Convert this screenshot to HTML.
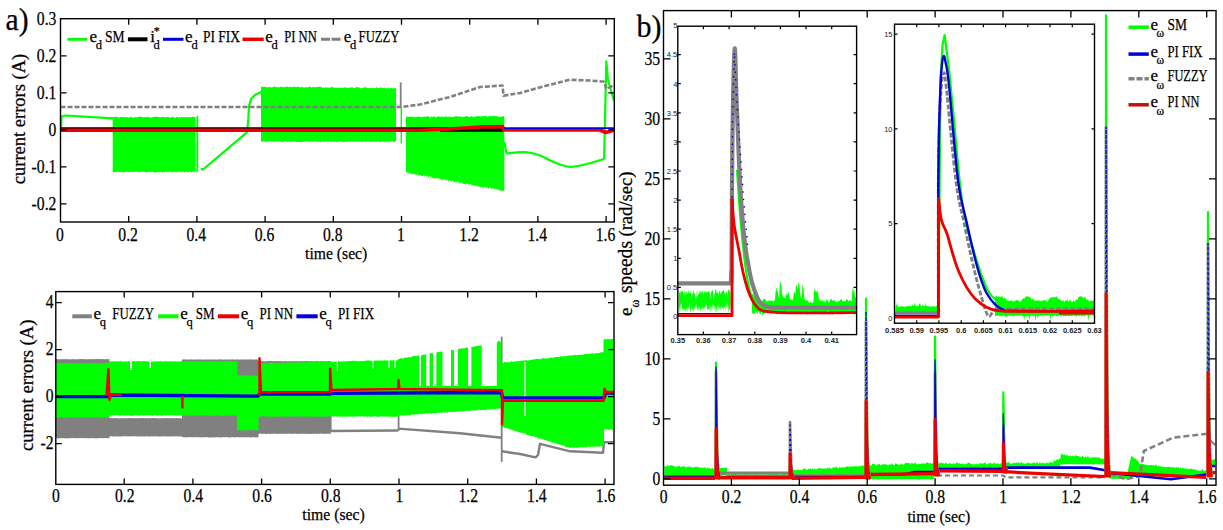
<!DOCTYPE html><html><head><meta charset="utf-8"><style>html,body{margin:0;padding:0;background:#fff;width:1223px;height:530px;overflow:hidden}svg{display:block}text{font-family:"Liberation Serif",serif;stroke:#000;stroke-width:0.25px}text.ss{font-family:"Liberation Sans",sans-serif;stroke:none}</style></head><body><svg width="1223" height="530" viewBox="0 0 1223 530">
<rect width="1223" height="530" fill="#fff"/>
<polyline points="61,129.9 61.5,116.6 65.6,115.5 113.4,118.4" fill="none" stroke="#00ff00" stroke-width="2.2" stroke-linejoin="round" />
<polygon points="112.7,117 113.3,117.4 114,117.2 114.7,116.7 115.3,116.6 116,116.7 116.7,117.1 117.4,116.7 118,117.4 118.7,117.3 119.4,117.8 120,117.6 120.7,116.8 121.4,117 122,116.8 122.7,117.4 123.4,117.3 124,116.7 124.7,117.4 125.4,117 126,117.1 126.7,117.6 127.4,116.9 128,117.2 128.7,117.5 129.4,117.8 130.1,117.1 130.7,116.8 131.4,116.6 132.1,117.5 132.7,117.7 133.4,117.4 134.1,117.3 134.7,117.6 135.4,117.2 136.1,116.7 136.7,117.4 137.4,117.6 138.1,117.1 138.7,116.6 139.4,116.8 140.1,116.7 140.7,116.8 141.4,117.1 142.1,116.7 142.8,117.3 143.4,117.6 144.1,116.9 144.8,117 145.4,117.7 146.1,116.8 146.8,116.9 147.4,117.3 148.1,116.6 148.8,117 149.4,117.7 150.1,117.2 150.8,117.4 151.4,117.7 152.1,117.6 152.8,117.1 153.4,116.7 154.1,116.7 154.8,116.9 155.5,117 156.1,116.6 156.8,116.7 157.5,116.6 158.1,117.3 158.8,116.9 159.5,117 160.1,117.6 160.8,117.2 161.5,116.7 162.1,117 162.8,117.6 163.5,116.6 164.1,117.2 164.8,117.3 165.5,117.2 166.2,117.6 166.8,116.9 167.5,116.8 168.2,117.2 168.8,117 169.5,117.6 170.2,117.6 170.8,117.6 171.5,116.9 172.2,117 172.8,116.6 173.5,116.9 174.2,117.7 174.8,117.7 175.5,117.7 176.2,116.9 176.8,116.8 177.5,117.3 178.2,117.6 178.9,117.4 179.5,116.7 180.2,117.7 180.9,117.5 181.5,116.8 182.2,117 182.9,117.8 183.5,117.1 184.2,117.5 184.9,116.8 185.5,117.7 186.2,116.8 186.9,117.8 187.5,117 188.2,116.8 188.9,117.8 189.5,117.2 190.2,117.1 190.9,117.6 191.6,116.9 192.2,116.9 192.9,116.9 193.6,116.8 194.2,117 194.9,117.3 195.6,117.1 196.2,117.2 196.9,117.2 196.9,172.6 196.2,172 195.6,171.5 194.9,171.5 194.2,172.1 193.6,171.5 192.9,172.1 192.2,171.9 191.6,172.2 190.9,172.3 190.2,171.6 189.5,171.5 188.9,171.8 188.2,172.6 187.5,171.9 186.9,171.8 186.2,171.6 185.5,171.6 184.9,172.4 184.2,172.4 183.5,171.5 182.9,172.1 182.2,171.6 181.5,171.7 180.9,172 180.2,171.7 179.5,171.8 178.9,171.6 178.2,172 177.5,171.5 176.8,172.4 176.2,172.3 175.5,172.2 174.8,171.4 174.2,172.1 173.5,171.8 172.8,172.3 172.2,172.6 171.5,172 170.8,171.7 170.2,171.6 169.5,171.4 168.8,172.3 168.2,171.7 167.5,171.7 166.8,172.2 166.2,171.8 165.5,171.4 164.8,172.6 164.1,172.4 163.5,171.5 162.8,172.4 162.1,172.3 161.5,172.5 160.8,172 160.1,171.4 159.5,172.5 158.8,172.2 158.1,172.4 157.5,171.6 156.8,172.2 156.1,172.4 155.5,172.5 154.8,172.4 154.1,172.5 153.4,171.8 152.8,172.1 152.1,171.6 151.4,171.7 150.8,172.5 150.1,171.9 149.4,171.8 148.8,171.9 148.1,172.1 147.4,172.3 146.8,172 146.1,172.3 145.4,172.4 144.8,171.5 144.1,172.1 143.4,171.6 142.8,171.5 142.1,172.1 141.4,171.6 140.7,172.3 140.1,171.7 139.4,172.5 138.7,172 138.1,171.8 137.4,172.3 136.7,171.4 136.1,171.8 135.4,171.8 134.7,171.5 134.1,172.1 133.4,171.9 132.7,172.2 132.1,171.9 131.4,171.8 130.7,172 130.1,171.7 129.4,172.5 128.7,172.3 128,171.5 127.4,171.9 126.7,171.8 126,172.2 125.4,171.9 124.7,172.1 124,172.4 123.4,172.5 122.7,172.2 122,171.9 121.4,171.6 120.7,172.5 120,172.3 119.4,172.5 118.7,172.1 118,171.5 117.4,172.3 116.7,171.6 116,172.5 115.3,172.1 114.7,172 114,172.2 113.3,172.5 112.7,172.4" fill="#00ff00" />
<line x1="196" y1="116" x2="196" y2="172" stroke="#fff" stroke-width="0.8" />
<line x1="197.5" y1="115.6" x2="197.5" y2="171.7" stroke="#00ff00" stroke-width="1.5" />
<polyline points="200.8,168.6 203,169.5 246.9,132.3 248.3,120 249,106 251,99 255,95 261.4,91.8" fill="none" stroke="#00ff00" stroke-width="2.2" stroke-linejoin="round" />
<polygon points="261,86.9 261.7,86.2 262.3,86.5 263,87.3 263.7,86.7 264.3,87.1 265,86.4 265.7,86.6 266.3,87.4 267,87.1 267.7,87.6 268.4,87.2 269,87 269.7,86.9 270.4,87 271,87.3 271.7,87.7 272.4,87.1 273,87.5 273.7,86.5 274.4,86.4 275,86.4 275.7,87.5 276.4,86.5 277,87.3 277.7,87.6 278.4,86.7 279,86.9 279.7,87.8 280.4,86.6 281,87.1 281.7,86.6 282.4,87.4 283.1,87.2 283.7,86.4 284.4,87.3 285.1,86.5 285.7,87.6 286.4,86.5 287.1,86.5 287.7,86.8 288.4,87 289.1,87.6 289.7,86.6 290.4,87.3 291.1,86.6 291.7,87.5 292.4,86.5 293.1,87.4 293.7,86.6 294.4,86.5 295.1,87.1 295.8,87.3 296.4,86.9 297.1,87.3 297.8,86.6 298.4,86.6 299.1,87 299.8,87.6 300.4,87.2 301.1,87 301.8,86.9 302.4,87.6 303.1,86.8 303.8,87.9 304.4,87.8 305.1,87.3 305.8,87.1 306.4,87.6 307.1,87.1 307.8,87.6 308.5,87.2 309.1,86.6 309.8,86.7 310.5,86.9 311.1,86.7 311.8,87.9 312.5,87 313.1,87 313.8,86.8 314.5,87 315.1,88.1 315.8,87 316.5,87.1 317.1,86.6 317.8,87.3 318.5,86.9 319.1,86.6 319.8,86.8 320.5,86.7 321.1,87.1 321.8,87.5 322.5,87.8 323.2,87.7 323.8,87.2 324.5,88.1 325.2,87.8 325.8,86.7 326.5,88 327.2,87.8 327.8,86.9 328.5,87.5 329.2,87.9 329.8,87.6 330.5,87.7 331.2,87.1 331.8,86.9 332.5,86.9 333.2,87.6 333.8,87.7 334.5,87.5 335.2,87.9 335.9,87.5 336.5,87.7 337.2,87.9 337.9,86.9 338.5,87.9 339.2,87.9 339.9,87.5 340.5,87.5 341.2,87.9 341.9,87.8 342.5,87 343.2,87.9 343.9,87.7 344.5,86.9 345.2,87.8 345.9,87.8 346.5,87.6 347.2,87.5 347.9,88.2 348.5,88.3 349.2,86.9 349.9,88.1 350.6,87.5 351.2,87.2 351.9,87.2 352.6,87.1 353.2,88.3 353.9,88.1 354.6,88.2 355.2,87.2 355.9,87.6 356.6,86.9 357.2,87.6 357.9,87.1 358.6,87.4 359.2,86.9 359.9,88.2 360.6,88.3 361.2,88.3 361.9,87.5 362.6,88.5 363.3,87.5 363.9,87.4 364.6,87.1 365.3,87.4 365.9,87.4 366.6,87.7 367.3,87.5 367.9,88.3 368.6,87.9 369.3,88.4 369.9,88.1 370.6,88.1 371.3,88.1 371.9,87.5 372.6,88.4 373.3,87.7 373.9,87.5 374.6,88.5 375.3,88 376,87.9 376.6,87.3 377.3,87.4 378,87.8 378.6,88.4 379.3,87.8 380,87.4 380.6,87.6 381.3,87.4 382,88 382.6,88.2 383.3,87.7 384,87.7 384.6,87.2 385.3,88.6 386,87.9 386.6,88.4 387.3,87.5 388,87.7 388.6,88.6 389.3,88.5 390,87.2 390.7,88.5 391.3,88 392,87.8 392.7,88.4 393.3,88.6 394,87.3 394.7,88 395.3,88.6 396,88.2 396,141.3 395.3,141.3 394.7,141.4 394,142 393.3,141.9 392.7,141.2 392,141.1 391.3,142.2 390.7,141.6 390,141.3 389.3,142.2 388.6,141.2 388,141.7 387.3,141.9 386.6,141.9 386,141.4 385.3,142 384.6,141.9 384,141.8 383.3,141.6 382.6,141.7 382,141.1 381.3,141.9 380.6,142.1 380,142.1 379.3,142 378.6,141 378,141.9 377.3,141.1 376.6,142 376,141.7 375.3,141.8 374.6,141.9 373.9,141.3 373.3,141.8 372.6,142 371.9,142.1 371.3,141.4 370.6,141.7 369.9,142.1 369.3,141.5 368.6,141.1 367.9,141.2 367.3,141.1 366.6,142 365.9,141.9 365.3,141.1 364.6,141.2 363.9,142.1 363.3,141.7 362.6,141.5 361.9,141.7 361.2,141.9 360.6,141.3 359.9,142.1 359.2,141.3 358.6,141.2 357.9,141.8 357.2,141.8 356.6,141.6 355.9,142.2 355.2,141.1 354.6,141.4 353.9,141.6 353.2,142 352.6,141.6 351.9,141.5 351.2,141.1 350.6,141.9 349.9,141 349.2,141.6 348.5,141.1 347.9,142 347.2,142.1 346.5,141.6 345.9,141.9 345.2,141.4 344.5,141.9 343.9,142.2 343.2,141.8 342.5,141.9 341.9,142.1 341.2,141.5 340.5,141.4 339.9,141.7 339.2,141 338.5,142 337.9,141.9 337.2,141.9 336.5,142.1 335.9,141.6 335.2,141.3 334.5,142.2 333.8,141.4 333.2,141.4 332.5,141.2 331.8,141.8 331.2,142.2 330.5,141.4 329.8,141.1 329.2,141.2 328.5,141.2 327.8,141.6 327.2,141.2 326.5,141.4 325.8,141.2 325.2,141.4 324.5,142 323.8,141.8 323.2,141.1 322.5,141.4 321.8,141.6 321.1,141.9 320.5,142.2 319.8,141.7 319.1,141.9 318.5,141.6 317.8,141.6 317.1,141.7 316.5,141.8 315.8,141 315.1,141.5 314.5,141 313.8,141.7 313.1,141.6 312.5,141.9 311.8,141.4 311.1,141.2 310.5,142 309.8,141.3 309.1,142 308.5,141.8 307.8,141.4 307.1,141.2 306.4,141 305.8,141.6 305.1,141.2 304.4,141.7 303.8,142.1 303.1,141.6 302.4,141.5 301.8,142.2 301.1,142.2 300.4,142 299.8,141.9 299.1,141.8 298.4,142 297.8,142 297.1,141.9 296.4,142 295.8,141.1 295.1,141.8 294.4,141.2 293.7,141.2 293.1,141.2 292.4,141.1 291.7,141.7 291.1,142.1 290.4,141.4 289.7,141.1 289.1,141.9 288.4,141.1 287.7,142 287.1,141.3 286.4,141.9 285.7,141 285.1,141 284.4,141.6 283.7,141.8 283.1,141.7 282.4,142.2 281.7,141.8 281,141.8 280.4,141.7 279.7,141.2 279,141.6 278.4,141.1 277.7,141 277,142 276.4,141.3 275.7,141.1 275,141.4 274.4,141.9 273.7,141.7 273,142 272.4,141.1 271.7,141.9 271,141.1 270.4,141.1 269.7,141.6 269,141.4 268.4,141.6 267.7,141.7 267,141.3 266.3,141.6 265.7,141.9 265,141.5 264.3,141.3 263.7,141.6 263,141.5 262.3,141.6 261.7,141.2 261,142" fill="#00ff00" />
<line x1="401.3" y1="107.5" x2="401.3" y2="143.2" stroke="#00ff00" stroke-width="1.4" />
<polygon points="406,116.9 406.7,116.3 407.3,116.5 408,117.2 408.7,116.4 409.3,117.1 410,116.3 410.7,117 411.3,116.7 412,117.1 412.7,116.6 413.4,117.6 414,117.5 414.7,116.5 415.4,117.6 416,116.6 416.7,116.9 417.4,116.7 418,117.1 418.7,116.4 419.4,116.6 420,117.1 420.7,117.3 421.4,116.8 422,117.5 422.7,117.3 423.4,116.4 424.1,116.5 424.7,116.8 425.4,116.4 426.1,117.1 426.7,116.3 427.4,116.4 428.1,116.3 428.7,116.1 429.4,117.4 430.1,117.1 430.7,117.4 431.4,116.3 432.1,117.1 432.7,117 433.4,116.6 434.1,116.3 434.8,116.4 435.4,117.4 436.1,117.4 436.8,116.5 437.4,117.2 438.1,116 438.8,116.5 439.4,116.3 440.1,117.3 440.8,116.6 441.4,117.1 442.1,116 442.8,117.3 443.4,117.1 444.1,116.4 444.8,117.4 445.5,116.3 446.1,116.4 446.8,115.9 447.5,117.3 448.1,117.3 448.8,116.2 449.5,117.3 450.1,116.5 450.8,116.5 451.5,117.3 452.1,117.1 452.8,117.1 453.5,116.8 454.1,116.3 454.8,117 455.5,116.1 456.2,116.2 456.8,115.9 457.5,116.3 458.2,117.2 458.8,116.2 459.5,116 460.2,116.9 460.8,116.2 461.5,116.7 462.2,116.9 462.8,116.8 463.5,117.1 464.2,116.6 464.8,116.9 465.5,116.1 466.2,116 466.9,116.6 467.5,116.4 468.2,116.5 468.9,117 469.5,117.2 470.2,116.5 470.9,117 471.5,115.8 472.2,115.9 472.9,117.2 473.5,117.1 474.2,117 474.9,116.1 475.5,117.1 476.2,116.6 476.9,116 477.6,115.9 478.2,116.1 478.9,116.7 479.6,115.7 480.2,116.7 480.9,116.1 481.6,116.9 482.2,115.8 482.9,116.2 483.6,116.6 484.2,115.9 484.9,116.3 485.6,116.1 486.2,116.1 486.9,116.2 487.6,116.9 488.3,116.2 488.9,116.7 489.6,115.6 490.3,116.2 490.9,116.2 491.6,116.3 492.3,115.6 492.9,116.5 493.6,115.7 494.3,116.1 494.9,115.8 495.6,116.3 496.3,115.7 496.9,116.8 497.6,115.8 498.3,117 499,116.3 499.6,116.9 500.3,116.9 501,116.8 501.6,116.7 502.3,116.1 503,116.8 503.6,115.8 504.3,116.3 504.3,191.2 503.6,191.1 503,191.4 502.3,189.9 501.6,191.1 501,191.1 500.3,190 499.6,190.3 499,190.9 498.3,188.9 497.6,190.5 496.9,188.7 496.3,189.5 495.6,188.5 494.9,189.7 494.3,189.1 493.6,188.7 492.9,188 492.3,188.6 491.6,189.3 490.9,187.7 490.3,187.7 489.6,187.4 488.9,188.7 488.3,188.6 487.6,186.9 486.9,187.9 486.2,187.5 485.6,186.6 484.9,187.8 484.2,186.8 483.6,187.9 482.9,186.9 482.2,187.6 481.6,186.6 480.9,187.2 480.2,187.1 479.6,186.7 478.9,186.8 478.2,185.9 477.6,186.6 476.9,186.1 476.2,185.5 475.5,186.4 474.9,184.9 474.2,185.4 473.5,185.5 472.9,184.9 472.2,185.6 471.5,185.2 470.9,183.9 470.2,183.9 469.5,185.3 468.9,184 468.2,184.7 467.5,183.1 466.9,184.3 466.2,183.1 465.5,184.2 464.8,184.2 464.2,183.7 463.5,183.7 462.8,184 462.2,182.4 461.5,182.6 460.8,183 460.2,182.8 459.5,182.6 458.8,183.3 458.2,181.3 457.5,181.2 456.8,182 456.2,182.8 455.5,181.3 454.8,182.5 454.1,181.8 453.5,181.8 452.8,180.8 452.1,180.7 451.5,181.7 450.8,180.9 450.1,181.3 449.5,179.8 448.8,180.6 448.1,181.4 447.5,180 446.8,179.7 446.1,180.5 445.5,179.5 444.8,179.6 444.1,180.1 443.4,178.8 442.8,179.9 442.1,180.2 441.4,180.1 440.8,178.4 440.1,179.9 439.4,179.1 438.8,177.8 438.1,178.6 437.4,178.6 436.8,177.6 436.1,178.7 435.4,178.8 434.8,178.2 434.1,178.8 433.4,178 432.7,177.8 432.1,178.3 431.4,176.4 430.7,177.5 430.1,176 429.4,176.1 428.7,177 428.1,177.5 427.4,175.6 426.7,176.6 426.1,175.4 425.4,176.3 424.7,176.6 424.1,175 423.4,175.3 422.7,176.2 422,175.9 421.4,176 420.7,174.8 420,175.7 419.4,175.2 418.7,175.8 418,173.9 417.4,175.1 416.7,174.2 416,175.3 415.4,173.9 414.7,174.6 414,174.1 413.4,173.6 412.7,173.8 412,174.6 411.3,174.1 410.7,173.2 410,174.1 409.3,172.7 408.7,173.5 408,173.3 407.3,171.9 406.7,172.1 406,172.4" fill="#00ff00" />
<polyline points="504.3,141.9 506.5,153.5" fill="none" stroke="#00ff00" stroke-width="2.2" stroke-linejoin="round" />
<path d="M506.5 153.5C507.9 153.3 511.5 152.8 515 152.6C518.5 152.4 523.3 151.9 527.5 152.4C531.7 152.9 535.4 153.8 540 155.5C544.6 157.2 550 160.6 555 162.5C560 164.4 564.8 166.5 569.8 166.8C574.8 167.1 579.3 165.8 585 164.5C590.7 163.2 600.9 159.9 604.1 159" fill="none" stroke="#00ff00" stroke-width="2.2" stroke-linejoin="round" />
<polyline points="604.1,159 606.3,61.3 608,80 614,101" fill="none" stroke="#00ff00" stroke-width="2.2" stroke-linejoin="round" />
<polyline points="60.5,107 401,107 420,104.5 450,97 480,87 502.5,85.5 503.5,95.7 520,93 545,86 569.8,79.8 590,80.5 604,81.7 606.5,89 614,85" fill="none" stroke="#808080" stroke-width="2.6" stroke-linejoin="round" stroke-dasharray="5 2"/>
<line x1="400.7" y1="82.4" x2="400.7" y2="107" stroke="#808080" stroke-width="1.8" />
<polyline points="60.5,128.2 420,128.2 503,128.6" fill="none" stroke="#000" stroke-width="2.0" stroke-linejoin="round" />
<polyline points="440,130 503,130" fill="none" stroke="#000" stroke-width="3.6" stroke-linejoin="round" />
<polyline points="60.5,130.2 420,130.2 450,129 480,127 502.5,126.6 504,130 600,130 606,132.5 614,130" fill="none" stroke="#ee0000" stroke-width="3.6" stroke-linejoin="round" />
<polyline points="504,128.1 614,128.1" fill="none" stroke="#0000dc" stroke-width="1.8" stroke-linejoin="round" />
<rect x="60.5" y="18.7" width="553.8" height="203.3" fill="none" stroke="#000" stroke-width="1.4"/>
<path d="M128.7 222v-6M128.7 18.7v6M196.9 222v-6M196.9 18.7v6M265.1 222v-6M265.1 18.7v6M333.3 222v-6M333.3 18.7v6M401.5 222v-6M401.5 18.7v6M469.7 222v-6M469.7 18.7v6M537.9 222v-6M537.9 18.7v6M606.1 222v-6M606.1 18.7v6M60.5 55.9h6M614.3 55.9h-6M60.5 92.9h6M614.3 92.9h-6M60.5 129.9h6M614.3 129.9h-6M60.5 166.9h6M614.3 166.9h-6M60.5 203.9h6M614.3 203.9h-6" stroke="#000" stroke-width="1.3" fill="none"/>
<line x1="67.4" y1="39.3" x2="87" y2="39.3" stroke="#00ff00" stroke-width="2.8" />
<line x1="127.9" y1="39.3" x2="147.5" y2="39.3" stroke="#000" stroke-width="4" />
<line x1="163" y1="39.3" x2="183.5" y2="39.3" stroke="#0000dc" stroke-width="3" />
<line x1="242.5" y1="39.3" x2="263.7" y2="39.3" stroke="#ee0000" stroke-width="3.5" />
<line x1="321" y1="39.3" x2="342.2" y2="39.3" stroke="#808080" stroke-width="3" stroke-dasharray="9 1.5"/>
<text x="89.4" y="41.7" font-size="17" text-anchor="start" >e</text>
<text x="95.7" y="49.3" font-size="12.5" text-anchor="start" >d</text>
<text x="105" y="41.7" font-size="17" text-anchor="start" textLength="19.6" lengthAdjust="spacingAndGlyphs" >SM</text>
<text x="150.3" y="41.7" font-size="17" text-anchor="start" >i</text>
<text x="153.5" y="49.3" font-size="12.5" text-anchor="start" >d</text>
<text x="153.8" y="35.3" font-size="12" text-anchor="start" >*</text>
<text x="185.1" y="41.7" font-size="17" text-anchor="start" >e</text>
<text x="191.4" y="49.3" font-size="12.5" text-anchor="start" >d</text>
<text x="203" y="41.7" font-size="17" text-anchor="start" textLength="37" lengthAdjust="spacingAndGlyphs" >PI FIX</text>
<text x="265.3" y="41.7" font-size="17" text-anchor="start" >e</text>
<text x="271.6" y="49.3" font-size="12.5" text-anchor="start" >d</text>
<text x="284.2" y="41.7" font-size="17" text-anchor="start" textLength="32.7" lengthAdjust="spacingAndGlyphs" >PI NN</text>
<text x="343.8" y="41.7" font-size="17" text-anchor="start" >e</text>
<text x="350.1" y="49.3" font-size="12.5" text-anchor="start" >d</text>
<text x="358.6" y="41.7" font-size="17" text-anchor="start" textLength="40.8" lengthAdjust="spacingAndGlyphs" >FUZZY</text>
<text x="56.4" y="24.7" font-size="18" text-anchor="end" textLength="19.6" lengthAdjust="spacingAndGlyphs" >0.3</text>
<text x="56.4" y="61.7" font-size="18" text-anchor="end" textLength="19.6" lengthAdjust="spacingAndGlyphs" >0.2</text>
<text x="56.4" y="98.7" font-size="18" text-anchor="end" textLength="19.6" lengthAdjust="spacingAndGlyphs" >0.1</text>
<text x="56.4" y="135.7" font-size="18" text-anchor="end" textLength="7.8" lengthAdjust="spacingAndGlyphs" >0</text>
<text x="56.4" y="172.7" font-size="18" text-anchor="end" textLength="24.8" lengthAdjust="spacingAndGlyphs" >-0.1</text>
<text x="56.4" y="209.7" font-size="18" text-anchor="end" textLength="24.8" lengthAdjust="spacingAndGlyphs" >-0.2</text>
<text x="59.9" y="241.4" font-size="18" text-anchor="middle" textLength="7.8" lengthAdjust="spacingAndGlyphs" >0</text>
<text x="128.1" y="241.4" font-size="18" text-anchor="middle" textLength="19.6" lengthAdjust="spacingAndGlyphs" >0.2</text>
<text x="196.3" y="241.4" font-size="18" text-anchor="middle" textLength="19.6" lengthAdjust="spacingAndGlyphs" >0.4</text>
<text x="264.5" y="241.4" font-size="18" text-anchor="middle" textLength="19.6" lengthAdjust="spacingAndGlyphs" >0.6</text>
<text x="332.7" y="241.4" font-size="18" text-anchor="middle" textLength="19.6" lengthAdjust="spacingAndGlyphs" >0.8</text>
<text x="400.9" y="241.4" font-size="18" text-anchor="middle" textLength="7.8" lengthAdjust="spacingAndGlyphs" >1</text>
<text x="469.1" y="241.4" font-size="18" text-anchor="middle" textLength="19.6" lengthAdjust="spacingAndGlyphs" >1.2</text>
<text x="537.3" y="241.4" font-size="18" text-anchor="middle" textLength="19.6" lengthAdjust="spacingAndGlyphs" >1.4</text>
<text x="605.5" y="241.4" font-size="18" text-anchor="middle" textLength="19.6" lengthAdjust="spacingAndGlyphs" >1.6</text>
<text x="336.2" y="258.5" font-size="17" text-anchor="middle" textLength="62.2" lengthAdjust="spacingAndGlyphs" >time (sec)</text>
<text x="0" y="0" font-size="18.5" text-anchor="middle" textLength="130.4" lengthAdjust="spacingAndGlyphs" transform="translate(25.1 119) rotate(-90)">current errors (A)</text>
<text x="5.6" y="30.2" font-size="32" text-anchor="start" textLength="23" lengthAdjust="spacingAndGlyphs" >a)</text>
<polygon points="55.8,359 56.5,359.3 57.1,359 57.8,359.3 58.5,359.3 59.2,359.2 59.8,359.3 60.5,359.2 61.2,359.2 61.8,359.2 62.5,359 63.2,359.2 63.9,359.3 64.5,359.2 65.2,359.2 65.9,359.1 66.5,359 67.2,359.2 67.9,359.3 68.6,359.3 69.2,359.2 69.9,359.2 70.6,359.4 71.2,359.3 71.9,359.3 72.6,359.1 73.3,359.2 73.9,359.4 74.6,359.3 75.3,359 75.9,359.3 76.6,359.4 77.3,359.3 78,359.2 78.6,359.1 79.3,359.2 80,359 80.6,359.1 81.3,359.3 82,359.1 82.7,359 83.3,359.3 84,359.3 84.7,359.2 85.3,359 86,359.3 86.7,359.3 87.3,359.4 88,359.1 88.7,359.2 89.4,359.3 90,359.3 90.7,359.3 91.4,359.2 92,359.1 92.7,359 93.4,359.2 94.1,359.2 94.7,359.1 95.4,359.3 96.1,359 96.7,359 97.4,359.1 98.1,359.2 98.8,359.2 99.4,359.1 100.1,359.1 100.8,359 101.4,359.3 102.1,359.2 102.8,359 103.5,359.2 104.1,359.3 104.8,359.4 105.5,359.1 106.1,359 106.8,359.2 107.5,359 108.2,359 108.8,359.4 109.5,359.1 109.5,438.2 108.8,438.3 108.2,438.2 107.5,438.1 106.8,438.3 106.1,438.2 105.5,438 104.8,438.1 104.1,438.2 103.5,438.3 102.8,438.1 102.1,438.3 101.4,438.1 100.8,438.1 100.1,438.3 99.4,438 98.8,438.2 98.1,438.3 97.4,438.2 96.7,438.3 96.1,438.3 95.4,438.4 94.7,438.3 94.1,438 93.4,438.2 92.7,438.3 92,438.4 91.4,438.1 90.7,438 90,438.3 89.4,438.4 88.7,438.3 88,438.1 87.3,438.2 86.7,438.3 86,438.2 85.3,438 84.7,438 84,438.2 83.3,438.3 82.7,438.2 82,438.1 81.3,438 80.6,438 80,438.3 79.3,438.3 78.6,438.3 78,438 77.3,438.3 76.6,438.3 75.9,438.3 75.3,438.3 74.6,438 73.9,438.3 73.3,438 72.6,438 71.9,438.1 71.2,438 70.6,438.3 69.9,438.2 69.2,438.4 68.6,438.1 67.9,438.4 67.2,438.4 66.5,438.2 65.9,438.2 65.2,438.4 64.5,438.3 63.9,438.1 63.2,438.3 62.5,438.2 61.8,438.2 61.2,438.1 60.5,438.2 59.8,438.3 59.2,438.2 58.5,438.4 57.8,438.4 57.1,438.2 56.5,438 55.8,438.3" fill="#808080" />
<polygon points="108.5,418.2 109.2,418.3 109.8,418.1 110.5,418 111.2,418.3 111.9,418 112.5,418.3 113.2,418.3 113.9,418.1 114.5,418.1 115.2,418.1 115.9,418.3 116.6,418.3 117.2,418.2 117.9,418.3 118.6,418.1 119.2,418.4 119.9,418.4 120.6,418.1 121.3,418.3 121.9,418.3 122.6,418.4 123.3,418.1 123.9,418.3 124.6,418.3 125.3,418.2 126,418.3 126.6,418.2 127.3,418.2 128,418.1 128.6,418 129.3,418.1 130,418 130.6,418.1 131.3,418 132,418.3 132.7,418.3 133.3,418 134,418.1 134.7,418.3 135.3,418 136,418.4 136.7,418 137.4,418 138,418.3 138.7,418.3 139.4,418.3 140,418 140.7,418.3 141.4,418.1 142.1,418 142.7,418.1 143.4,418.1 144.1,418.4 144.7,418.3 145.4,418 146.1,418.2 146.8,418.1 147.4,418.2 148.1,418.3 148.8,418.3 149.4,418 150.1,418.3 150.8,418 151.5,418.2 152.1,418.1 152.8,418.1 153.5,418.1 154.1,418.1 154.8,418.3 155.5,418 156.2,418 156.8,418.3 157.5,418.3 158.2,418.2 158.8,418.4 159.5,418.4 160.2,418.1 160.9,418.4 161.5,418.2 162.2,418.1 162.9,418.2 163.5,418.3 164.2,418.1 164.9,418.1 165.5,418.3 166.2,418.1 166.9,418.3 167.6,418.1 168.2,418.4 168.9,418.1 169.6,418.3 170.2,418.1 170.9,418.1 171.6,418.2 172.3,418.1 172.9,418.4 173.6,418 174.3,418 174.9,418.4 175.6,418.3 176.3,418.1 177,418 177.6,418.2 178.3,418.2 179,418.3 179.6,418.3 180.3,418.1 181,418.2 181.7,418.4 182.3,418.2 183,418.2 183,436.5 182.3,436.3 181.7,436.4 181,436.3 180.3,436.4 179.6,436.4 179,436.4 178.3,436.3 177.6,436.6 177,436.5 176.3,436.3 175.6,436.4 174.9,436.3 174.3,436.4 173.6,436.2 172.9,436.3 172.3,436.5 171.6,436.5 170.9,436.5 170.2,436.5 169.6,436.3 168.9,436.5 168.2,436.5 167.6,436.4 166.9,436.4 166.2,436.4 165.5,436.3 164.9,436.3 164.2,436.5 163.5,436.3 162.9,436.3 162.2,436.4 161.5,436.2 160.9,436.4 160.2,436.5 159.5,436.6 158.8,436.6 158.2,436.4 157.5,436.5 156.8,436.3 156.2,436.3 155.5,436.3 154.8,436.4 154.1,436.5 153.5,436.2 152.8,436.3 152.1,436.4 151.5,436.3 150.8,436.4 150.1,436.2 149.4,436.5 148.8,436.5 148.1,436.6 147.4,436.5 146.8,436.3 146.1,436.3 145.4,436.4 144.7,436.4 144.1,436.4 143.4,436.5 142.7,436.3 142.1,436.5 141.4,436.4 140.7,436.5 140,436.6 139.4,436.5 138.7,436.3 138,436.3 137.4,436.6 136.7,436.5 136,436.2 135.3,436.3 134.7,436.2 134,436.3 133.3,436.4 132.7,436.3 132,436.3 131.3,436.6 130.6,436.5 130,436.2 129.3,436.6 128.6,436.2 128,436.4 127.3,436.5 126.6,436.3 126,436.3 125.3,436.3 124.6,436.2 123.9,436.3 123.3,436.2 122.6,436.5 121.9,436.5 121.3,436.2 120.6,436.5 119.9,436.6 119.2,436.5 118.6,436.3 117.9,436.4 117.2,436.4 116.6,436.5 115.9,436.3 115.2,436.3 114.5,436.6 113.9,436.6 113.2,436.4 112.5,436.4 111.9,436.3 111.2,436.3 110.5,436.2 109.8,436.5 109.2,436.5 108.5,436.3" fill="#808080" />
<polygon points="182,359.6 182.7,359.6 183.3,359.6 184,359.6 184.7,359.4 185.4,359.3 186,359.6 186.7,359.6 187.4,359.5 188,359.5 188.7,359.6 189.4,359.4 190.1,359.6 190.7,359.5 191.4,359.3 192.1,359.4 192.7,359.7 193.4,359.3 194.1,359.5 194.8,359.5 195.4,359.6 196.1,359.5 196.8,359.4 197.4,359.5 198.1,359.3 198.8,359.4 199.4,359.4 200.1,359.3 200.8,359.5 201.5,359.4 202.1,359.4 202.8,359.7 203.5,359.4 204.1,359.5 204.8,359.4 205.5,359.6 206.2,359.5 206.8,359.4 207.5,359.4 208.2,359.6 208.8,359.5 209.5,359.5 210.2,359.6 210.9,359.6 211.5,359.5 212.2,359.5 212.9,359.3 213.5,359.4 214.2,359.4 214.9,359.5 215.6,359.6 216.2,359.7 216.9,359.3 217.6,359.7 218.2,359.4 218.9,359.6 219.6,359.3 220.2,359.6 220.9,359.3 221.6,359.4 222.3,359.4 222.9,359.7 223.6,359.4 224.3,359.5 224.9,359.6 225.6,359.6 226.3,359.4 227,359.5 227.6,359.5 228.3,359.5 229,359.4 229.6,359.5 230.3,359.5 231,359.5 231.7,359.5 232.3,359.3 233,359.5 233.7,359.6 234.3,359.4 235,359.7 235.7,359.6 236.4,359.3 237,359.6 237.7,359.4 238.4,359.5 239,359.7 239.7,359.6 240.4,359.4 241.1,359.4 241.7,359.5 242.4,359.4 243.1,359.5 243.7,359.6 244.4,359.6 245.1,359.5 245.8,359.5 246.4,359.6 247.1,359.4 247.8,359.4 248.4,359.6 249.1,359.3 249.8,359.7 250.4,359.3 251.1,359.3 251.8,359.7 252.5,359.6 253.1,359.7 253.8,359.5 254.5,359.6 255.1,359.6 255.8,359.6 256.5,359.6 257.2,359.4 257.8,359.6 258.5,359.6 258.5,437.4 257.8,437.1 257.2,437.5 256.5,437.5 255.8,437.3 255.1,437.4 254.5,437.3 253.8,437.2 253.1,437.3 252.5,437.2 251.8,437.3 251.1,437.4 250.4,437.4 249.8,437.3 249.1,437.2 248.4,437.2 247.8,437.3 247.1,437.4 246.4,437.2 245.8,437.1 245.1,437.4 244.4,437.3 243.7,437.4 243.1,437.3 242.4,437.3 241.7,437.2 241.1,437.3 240.4,437.2 239.7,437.2 239,437.5 238.4,437.3 237.7,437.1 237,437.1 236.4,437.3 235.7,437.2 235,437.5 234.3,437.3 233.7,437.2 233,437.3 232.3,437.2 231.7,437.2 231,437.3 230.3,437.4 229.6,437.5 229,437.4 228.3,437.4 227.6,437.1 227,437.2 226.3,437.2 225.6,437.2 224.9,437.1 224.3,437.2 223.6,437.1 222.9,437.2 222.3,437.4 221.6,437.2 220.9,437.4 220.2,437.4 219.6,437.1 218.9,437.5 218.2,437.2 217.6,437.2 216.9,437.2 216.2,437.2 215.6,437.4 214.9,437.2 214.2,437.3 213.5,437.4 212.9,437.2 212.2,437.4 211.5,437.4 210.9,437.4 210.2,437.4 209.5,437.4 208.8,437.4 208.2,437.2 207.5,437.2 206.8,437.1 206.2,437.3 205.5,437.2 204.8,437.2 204.1,437.4 203.5,437.2 202.8,437.3 202.1,437.2 201.5,437.4 200.8,437.2 200.1,437.3 199.4,437.3 198.8,437.5 198.1,437.1 197.4,437.2 196.8,437.2 196.1,437.1 195.4,437.3 194.8,437.2 194.1,437.2 193.4,437.3 192.7,437.3 192.1,437.2 191.4,437.3 190.7,437.1 190.1,437.3 189.4,437.2 188.7,437.1 188,437.3 187.4,437.3 186.7,437.4 186,437.2 185.4,437.3 184.7,437.2 184,437.3 183.3,437.2 182.7,437.2 182,437.1" fill="#808080" />
<polygon points="257.5,361.3 258.2,361.2 258.8,361.1 259.5,361.1 260.2,361.3 260.9,361 261.5,361 262.2,361.3 262.9,361.4 263.6,361 264.2,361.2 264.9,361.4 265.6,361.2 266.2,361.3 266.9,361.1 267.6,361 268.3,361 268.9,361 269.6,361.1 270.3,361.3 270.9,361.3 271.6,361 272.3,361.3 273,361.3 273.6,361.3 274.3,361.2 275,361.1 275.7,361.3 276.3,361 277,361.3 277.7,361.1 278.3,361.1 279,361.2 279.7,361.1 280.4,361.2 281,361.1 281.7,361.1 282.4,361.3 283.1,361.2 283.7,361.4 284.4,361.2 285.1,361 285.7,361.3 286.4,361.1 287.1,361.4 287.8,361.2 288.4,361.2 289.1,361.2 289.8,361.2 290.5,361.3 291.1,361 291.8,361.2 292.5,361.3 293.1,361 293.8,361.3 294.5,361.2 295.2,361.3 295.8,361.3 296.5,361.1 297.2,361.2 297.8,361.1 298.5,361.4 299.2,361.2 299.9,361.2 300.5,361.1 301.2,361.3 301.9,361 302.6,361.3 303.2,361.2 303.9,361.4 304.6,361.2 305.2,361.1 305.9,361.1 306.6,361.1 307.3,361.2 307.9,361.1 308.6,361.4 309.3,361 310,361.3 310.6,361.2 311.3,361.2 312,361 312.6,361.3 313.3,361.2 314,361.3 314.7,361.4 315.3,361.3 316,361.1 316.7,361.1 317.4,361 318,361.2 318.7,361.2 319.4,361.4 320,361.2 320.7,361 321.4,361.1 322.1,361.3 322.7,361.3 323.4,361.2 324.1,361.4 324.7,361.1 325.4,361.1 326.1,361.4 326.8,361.3 327.4,361.3 328.1,361.3 328.8,361 329.5,361.3 330.1,361.3 330.8,361.2 330.8,433.7 330.1,433.9 329.5,433.6 328.8,433.9 328.1,433.6 327.4,433.7 326.8,434 326.1,433.6 325.4,433.9 324.7,434 324.1,433.6 323.4,433.9 322.7,433.8 322.1,433.6 321.4,433.8 320.7,433.6 320,433.8 319.4,434 318.7,433.6 318,433.7 317.4,434 316.7,433.9 316,434 315.3,433.6 314.7,433.7 314,433.8 313.3,433.9 312.6,433.8 312,433.6 311.3,434 310.6,433.9 310,433.9 309.3,433.7 308.6,433.9 307.9,434 307.3,433.8 306.6,433.8 305.9,433.7 305.2,433.9 304.6,433.8 303.9,433.8 303.2,433.6 302.6,433.9 301.9,433.7 301.2,433.8 300.5,433.7 299.9,433.9 299.2,433.7 298.5,433.9 297.8,433.7 297.2,433.7 296.5,434 295.8,433.6 295.2,433.7 294.5,433.9 293.8,433.7 293.1,433.7 292.5,433.6 291.8,433.8 291.1,433.9 290.5,433.9 289.8,433.6 289.1,433.7 288.4,433.6 287.8,433.9 287.1,433.7 286.4,433.8 285.7,433.7 285.1,433.6 284.4,433.9 283.7,433.7 283.1,433.7 282.4,433.8 281.7,433.7 281,433.7 280.4,433.7 279.7,433.8 279,434 278.3,433.7 277.7,433.7 277,434 276.3,433.7 275.7,434 275,433.6 274.3,433.6 273.6,433.7 273,434 272.3,433.7 271.6,433.7 270.9,433.9 270.3,433.9 269.6,434 268.9,433.7 268.3,433.6 267.6,433.7 266.9,434 266.2,433.9 265.6,434 264.9,433.8 264.2,433.6 263.6,433.8 262.9,433.8 262.2,433.8 261.5,434 260.9,433.8 260.2,433.6 259.5,433.8 258.8,433.8 258.2,433.9 257.5,433.7" fill="#808080" />
<polyline points="330.5,431 398.3,430.5" fill="none" stroke="#808080" stroke-width="2.4" stroke-linejoin="round" />
<polyline points="398.3,428.6 460,433.2 501.7,437.7" fill="none" stroke="#808080" stroke-width="2.4" stroke-linejoin="round" />
<polyline points="502,451.3 520,454 535.5,457.4 538,455 540,443.8 570.2,451.3 603,452.8 604,442.3 614,442.3" fill="none" stroke="#808080" stroke-width="2.4" stroke-linejoin="round" />
<line x1="330.8" y1="416" x2="330.8" y2="431" stroke="#808080" stroke-width="1.6" />
<line x1="398.6" y1="411.6" x2="398.6" y2="431" stroke="#808080" stroke-width="1.8" />
<line x1="501.7" y1="336.6" x2="501.7" y2="461.9" stroke="#808080" stroke-width="1.8" />
<polygon points="55.8,362.7 56.5,362.9 57.1,363.1 57.8,362.8 58.5,363.3 59.2,363.3 59.8,362.6 60.5,362.8 61.2,363.5 61.9,362.7 62.5,362.7 63.2,363.4 63.9,363.1 64.6,363.4 65.2,363.2 65.9,362.8 66.6,363.3 67.2,362.7 67.9,362.9 68.6,362.8 69.3,363.4 69.9,362.8 70.6,362.9 71.3,362.7 72,362.7 72.6,363.3 73.3,363.1 74,362.9 74.7,363 75.3,363.6 76,362.7 76.7,363.5 77.3,363.3 78,363.6 78.7,363.4 79.4,362.7 80,363.4 80.7,362.8 81.4,363.5 82.1,363.2 82.7,362.8 83.4,363.3 84.1,362.7 84.8,363.2 85.4,362.9 86.1,363.2 86.8,363.4 87.5,362.8 88.1,363.3 88.8,363.3 89.5,363.4 90.1,363.4 90.8,363.1 91.5,363.5 92.2,363.5 92.8,362.8 93.5,363 94.2,363 94.9,362.6 95.5,363 96.2,362.7 96.9,363.4 97.6,362.9 98.2,363 98.9,362.7 99.6,363.6 100.2,363.1 100.9,363.1 101.6,363.6 102.3,362.8 102.9,362.9 103.6,362.6 104.3,363.3 105,362.6 105.6,363.2 106.3,363.3 107,363.5 107.7,362.6 108.3,363.1 109,362.9 109,417.9 108.3,417.5 107.7,417.9 107,417.3 106.3,417.9 105.6,417.5 105,417.4 104.3,417.8 103.6,417.9 102.9,417.2 102.3,417.9 101.6,417.8 100.9,418 100.2,417.5 99.6,417.5 98.9,417.1 98.2,417.2 97.6,417.3 96.9,417.1 96.2,417.3 95.5,417.5 94.9,417.5 94.2,417.4 93.5,417.8 92.8,417.2 92.2,417.7 91.5,417.5 90.8,418 90.1,417.1 89.5,417.7 88.8,417.9 88.1,417.6 87.5,417.9 86.8,417.4 86.1,417.3 85.4,417.8 84.8,417.5 84.1,417.9 83.4,417.8 82.7,417.2 82.1,417.9 81.4,417.8 80.7,417.6 80,417.5 79.4,418 78.7,417.7 78,418 77.3,417.7 76.7,417.9 76,417.7 75.3,417.1 74.7,417 74,417.8 73.3,417.7 72.6,417.8 72,417.1 71.3,417 70.6,417.1 69.9,417.5 69.3,417.7 68.6,417.7 67.9,417.6 67.2,417.1 66.6,417.4 65.9,417.9 65.2,417.9 64.6,417.5 63.9,417.7 63.2,417.4 62.5,417.1 61.9,417.6 61.2,417.1 60.5,417.1 59.8,417.1 59.2,417.8 58.5,418 57.8,417.9 57.1,417.8 56.5,417.9 55.8,417.7" fill="#00ff00" />
<polygon points="108.5,361.2 109.2,361.4 109.8,360.9 110.5,361.5 111.2,361.6 111.8,361.2 112.5,361.6 113.2,361.2 113.8,361.6 114.5,361 115.2,361.2 115.9,361.6 116.5,361.6 117.2,360.9 117.9,361.8 118.5,361 119.2,361.4 119.9,361.3 120.5,361.2 121.2,360.8 121.9,361.8 122.5,361.7 123.2,361.6 123.9,361.7 124.5,361.4 125.2,361.5 125.9,361.3 126.5,361.4 127.2,361.3 127.9,361.8 128.6,361.1 129.2,360.9 129.9,361.8 130.6,361.1 131.2,361.3 131.9,360.9 132.6,361.1 133.2,361.1 133.9,360.9 134.6,361.6 135.2,361.4 135.9,361 136.6,361.3 137.2,361.4 137.9,361.1 138.6,361 139.2,361.2 139.9,360.8 140.6,361.7 141.3,361.4 141.9,361.1 142.6,361.1 143.3,361 143.9,361.7 144.6,360.9 145.3,361.2 145.9,360.9 146.6,361.8 147.3,361 147.9,361.2 148.6,361.4 149.3,361.6 149.9,361.5 150.6,361.6 151.3,361.6 151.9,361.7 152.6,361.7 153.3,361.6 154,361.3 154.6,361.4 155.3,361.6 156,361.4 156.6,361.3 157.3,361.5 158,361.2 158.6,361.2 159.3,361.6 160,361.3 160.6,361 161.3,360.9 162,361.4 162.6,361.7 163.3,361.6 164,361.8 164.6,361.2 165.3,360.8 166,361.4 166.7,361.7 167.3,361.3 168,361.3 168.7,361.5 169.3,361.2 170,361.2 170.7,361.5 171.3,360.9 172,361.2 172.7,361.4 173.3,361.8 174,361.2 174.7,361.8 175.3,361.3 176,361 176.7,361.8 177.3,361.3 178,361.7 178.7,361.6 179.3,361.7 180,361 180.7,361.3 181.4,361 182,361.4 182.7,361.2 183.4,361.4 184,361.2 184.7,361.1 185.4,360.8 186,361.6 186.7,361.5 187.4,361.3 188,361.1 188.7,361.3 189.4,361.4 190,360.9 190.7,361.6 191.4,360.9 192,361.3 192.7,361.4 193.4,360.9 194.1,361.6 194.7,361.5 195.4,361 196.1,360.9 196.7,361.4 197.4,361.2 198.1,360.9 198.7,361.4 199.4,361.2 200.1,361 200.7,361.7 201.4,361.1 202.1,361.6 202.7,361.4 203.4,361.3 204.1,361 204.7,361.5 205.4,361.1 206.1,361.3 206.8,361 207.4,361.2 208.1,361.8 208.8,361.4 209.4,361.3 210.1,361.2 210.8,360.9 211.4,361.2 212.1,361 212.8,361 213.4,361.5 214.1,361 214.8,360.9 215.4,361.6 216.1,361.2 216.8,361.6 217.4,361.2 218.1,361.2 218.8,361 219.5,361.3 220.1,361.3 220.8,361.5 221.5,361.7 222.1,361.2 222.8,361.4 223.5,361.7 224.1,361.3 224.8,361.1 225.5,361.2 226.1,361.4 226.8,361.2 227.5,361 228.1,361.1 228.8,360.9 229.5,361.2 230.1,361.1 230.8,361.1 231.5,360.9 232.2,361.1 232.8,361.7 233.5,361.7 234.2,360.9 234.8,360.8 235.5,361.5 236.2,361.2 236.8,361.5 237.5,361.6 237.5,415.6 236.8,415.8 236.2,415.3 235.5,415.6 234.8,415.3 234.2,415.7 233.5,415.1 232.8,415.2 232.2,415.6 231.5,415.3 230.8,415.8 230.1,415.9 229.5,415.5 228.8,415.4 228.1,415.3 227.5,415.1 226.8,415.9 226.1,415.7 225.5,415.3 224.8,415.2 224.1,415.5 223.5,415.9 222.8,415.8 222.1,415.8 221.5,415.4 220.8,415.7 220.1,415.9 219.5,415.8 218.8,415 218.1,415 217.4,415.3 216.8,415.8 216.1,415.2 215.4,415.9 214.8,415.7 214.1,415.3 213.4,415.7 212.8,416 212.1,415.7 211.4,415.8 210.8,415.2 210.1,415.9 209.4,415.6 208.8,415.9 208.1,415.7 207.4,415.8 206.8,415.8 206.1,415.2 205.4,415.1 204.7,415.8 204.1,415.6 203.4,415.1 202.7,415 202.1,415.7 201.4,415.1 200.7,415.1 200.1,416 199.4,415.4 198.7,415 198.1,415.1 197.4,415.6 196.7,415.7 196.1,415.1 195.4,415.7 194.7,415.6 194.1,415.7 193.4,416 192.7,415.2 192,415.2 191.4,415.8 190.7,415.9 190,415.8 189.4,415.6 188.7,415 188,415.4 187.4,415.4 186.7,415.8 186,415.4 185.4,415.7 184.7,415.3 184,415.2 183.4,416 182.7,415 182,415.4 181.4,415.8 180.7,415.5 180,415.7 179.3,415.6 178.7,415 178,415.3 177.3,415.9 176.7,415.2 176,415.7 175.3,415.2 174.7,415.7 174,415.4 173.3,415.5 172.7,415.1 172,415.4 171.3,415.6 170.7,415.5 170,415.1 169.3,415.4 168.7,415.6 168,415.5 167.3,415 166.7,415.2 166,415.5 165.3,416 164.6,415.1 164,415.8 163.3,415.2 162.6,415.7 162,415.9 161.3,415.4 160.6,415.7 160,415.6 159.3,415.2 158.6,415.7 158,415.4 157.3,415.7 156.6,415.5 156,415.6 155.3,415.1 154.6,415.6 154,415 153.3,415.4 152.6,416 151.9,415.9 151.3,415.3 150.6,415.5 149.9,415.3 149.3,415.5 148.6,415.2 147.9,415.3 147.3,415.7 146.6,415.3 145.9,415.8 145.3,415.3 144.6,415.6 143.9,415.6 143.3,415.9 142.6,415.2 141.9,415 141.3,415.5 140.6,415.8 139.9,415.6 139.2,415.4 138.6,415.5 137.9,415.8 137.2,415.5 136.6,415.5 135.9,415.3 135.2,415.3 134.6,415.4 133.9,415.5 133.2,415.8 132.6,415.6 131.9,415.9 131.2,415.9 130.6,415.5 129.9,415.5 129.2,415.4 128.6,415.4 127.9,415.7 127.2,415.6 126.5,415.7 125.9,415.1 125.2,415.7 124.5,415.7 123.9,416 123.2,415.1 122.5,415.4 121.9,415.2 121.2,415.9 120.5,415.5 119.9,415.9 119.2,415.6 118.5,415.6 117.9,415.1 117.2,415.5 116.5,415.2 115.9,415.1 115.2,415 114.5,415.7 113.8,415.7 113.2,415.1 112.5,415.5 111.8,415.6 111.2,415.1 110.5,415.8 109.8,415.4 109.2,415.1 108.5,415.9" fill="#00ff00" />
<polygon points="237,375.6 237.7,375.1 238.3,375.7 239,375 239.7,375.2 240.4,375.3 241,375 241.7,375.6 242.4,375.8 243,375.7 243.7,375.4 244.4,375.3 245.1,375.8 245.7,375.3 246.4,375.9 247.1,375 247.8,375.1 248.4,375.2 249.1,375.7 249.8,375.7 250.4,375.7 251.1,375.3 251.8,375.9 252.5,375.9 253.1,375.7 253.8,375.6 254.5,375.1 255.1,375.4 255.8,375.9 256.5,375.8 257.2,375.7 257.8,375.3 258.5,376 258.5,430.1 257.8,430.2 257.2,429.9 256.5,430.7 255.8,430.6 255.1,430.2 254.5,430 253.8,430.2 253.1,429.9 252.5,430 251.8,430.3 251.1,430.6 250.4,429.9 249.8,430.3 249.1,430.6 248.4,429.8 247.8,429.9 247.1,430.5 246.4,430.1 245.7,430.7 245.1,429.9 244.4,430.7 243.7,430 243,430.4 242.4,430.1 241.7,430.5 241,430.4 240.4,430.3 239.7,430.5 239,430.7 238.3,430 237.7,429.8 237,430.5" fill="#00ff00" />
<polygon points="258,363.3 258.7,362.8 259.3,363.2 260,363.1 260.7,363.4 261.3,363 262,363.2 262.7,363.6 263.4,363 264,362.8 264.7,363 265.4,363.2 266,362.8 266.7,363.2 267.4,363.4 268,362.7 268.7,362.9 269.4,362.6 270,362.7 270.7,363 271.4,362.8 272.1,362.8 272.7,362.5 273.4,363.4 274.1,362.5 274.7,363.4 275.4,362.5 276.1,362.8 276.7,362.9 277.4,363.3 278.1,363 278.7,363 279.4,362.6 280.1,362.3 280.7,363.1 281.4,362.5 282.1,363.1 282.8,362.4 283.4,363 284.1,362.5 284.8,363 285.4,362.5 286.1,362.5 286.8,362.4 287.4,362.7 288.1,362.9 288.8,363 289.4,362.6 290.1,362.2 290.8,362.6 291.5,362.7 292.1,362.5 292.8,362.1 293.5,362.4 294.1,362.7 294.8,362.8 295.5,362.7 296.1,362.2 296.8,362.4 297.5,362.2 298.1,362.5 298.8,362.8 299.5,362.1 300.1,362.4 300.8,362 301.5,362.1 302.2,362.8 302.8,362.6 303.5,362.7 304.2,362.6 304.8,362.4 305.5,362 306.2,362.7 306.8,362.3 307.5,362 308.2,361.7 308.8,362.3 309.5,361.7 310.2,362 310.9,362 311.5,362.1 312.2,361.7 312.9,362.4 313.5,361.6 314.2,361.8 314.9,362 315.5,362 316.2,361.7 316.9,361.6 317.5,362 318.2,361.8 318.9,361.8 319.6,361.9 320.2,362.1 320.9,362.4 321.6,361.4 322.2,361.7 322.9,362.3 323.6,362.1 324.2,362.1 324.9,361.5 325.6,361.3 326.2,361.5 326.9,361.9 327.6,362.1 328.2,362.1 328.9,362.1 329.6,361.3 330.3,361.5 330.9,361.8 331.6,361.2 332.3,361.8 332.9,361.8 333.6,361.7 334.3,361.6 334.9,361.2 335.6,361.7 336.3,361.2 336.9,361.8 337.6,361.1 338.3,361.1 339,361.1 339.6,361.2 340.3,361.3 341,361.8 341.6,361.6 342.3,361.8 343,361.2 343.6,361.3 344.3,361.6 345,361 345.6,361.5 346.3,361.3 347,361.6 347.7,361.6 348.3,360.8 349,360.9 349.7,361.3 350.3,360.9 351,361.1 351.7,361 352.3,360.6 353,361 353.7,361.1 354.3,360.6 355,361.3 355.7,360.8 356.4,360.8 357,361.1 357.7,361.5 358.4,361.1 359,361.4 359.7,361.1 360.4,360.8 361,361.2 361.7,361.4 362.4,360.7 363,361.1 363.7,361 364.4,360.9 365,360.4 365.7,360.7 366.4,360.8 367.1,360.6 367.7,360.6 368.4,360.3 369.1,360.7 369.7,360.8 370.4,360.4 371.1,360.5 371.7,360.9 372.4,361.1 373.1,361.1 373.7,360.2 374.4,360.7 375.1,360.5 375.8,360.5 376.4,360.2 377.1,361 377.8,360.3 378.4,360.2 379.1,360.7 379.8,360.4 380.4,360.6 381.1,360.6 381.8,360.7 382.4,360.6 383.1,360.7 383.8,360.3 384.4,360.1 385.1,360.8 385.8,360.8 386.5,360.2 387.1,360.5 387.8,360.5 388.5,359.9 389.1,359.8 389.8,360.1 390.5,360.4 391.1,360.2 391.8,360.7 392.5,360.7 393.1,360.3 393.8,360 394.5,359.8 395.2,360.4 395.8,360.5 396.5,360.2 397.2,360.2 397.8,360.2 398.5,360.3 398.5,416.7 397.8,416.7 397.2,416.3 396.5,416.4 395.8,416.6 395.2,416.9 394.5,416.9 393.8,416.9 393.1,416.3 392.5,416.9 391.8,416.4 391.1,417 390.5,416.7 389.8,416.5 389.1,416.4 388.5,416.6 387.8,416.7 387.1,416.6 386.5,416.3 385.8,416.8 385.1,416.4 384.4,416.5 383.8,416.9 383.1,416.1 382.4,416.9 381.8,416 381.1,416.8 380.4,416.1 379.8,416.8 379.1,416.8 378.4,416.7 377.8,417 377.1,416.7 376.4,416.5 375.8,416.1 375.1,416.2 374.4,416 373.7,416.8 373.1,416.4 372.4,416.7 371.7,416.4 371.1,416.7 370.4,416.9 369.7,416.7 369.1,416.6 368.4,416.1 367.7,416.9 367.1,416.8 366.4,416.6 365.7,416 365,416.7 364.4,416.6 363.7,416.6 363,416.5 362.4,416.2 361.7,416.3 361,416.1 360.4,416.7 359.7,416.4 359,416.2 358.4,416.2 357.7,417 357,416 356.4,416.4 355.7,416.5 355,416.7 354.3,416.9 353.7,416 353,417 352.3,416.4 351.7,416.6 351,416.4 350.3,416.6 349.7,417 349,416.1 348.3,416.7 347.7,416.4 347,416.6 346.3,416.8 345.6,416.6 345,416.2 344.3,417 343.6,416.1 343,416.8 342.3,417 341.6,416.2 341,416.5 340.3,416.9 339.6,416.3 339,416.4 338.3,416.2 337.6,417 336.9,416.4 336.3,416.6 335.6,416.7 334.9,416.1 334.3,416.2 333.6,416.9 332.9,417 332.3,416.1 331.6,416.6 330.9,416.2 330.3,416.2 329.6,416.3 328.9,416.1 328.2,416.4 327.6,416.4 326.9,416.6 326.2,416.7 325.6,416.4 324.9,416.6 324.2,416.9 323.6,416.9 322.9,416.4 322.2,416.8 321.6,416.2 320.9,416.3 320.2,416.9 319.6,416.3 318.9,416.1 318.2,416.9 317.5,416.9 316.9,416.5 316.2,416.4 315.5,416.4 314.9,416.7 314.2,416.9 313.5,416.1 312.9,416.5 312.2,416.8 311.5,416.6 310.9,416.5 310.2,416.4 309.5,416.3 308.8,416.6 308.2,416.8 307.5,416.1 306.8,416.7 306.2,416.5 305.5,416.4 304.8,416.4 304.2,416.9 303.5,416.4 302.8,416 302.2,416.1 301.5,416.5 300.8,416.9 300.1,416.7 299.5,416.6 298.8,416.8 298.1,416.2 297.5,416.6 296.8,416.6 296.1,416.3 295.5,416.6 294.8,416.1 294.1,417 293.5,416.8 292.8,417 292.1,416 291.5,416.8 290.8,416.9 290.1,416.7 289.4,416.5 288.8,416.1 288.1,416.3 287.4,416.4 286.8,417 286.1,416.2 285.4,416.4 284.8,416.7 284.1,416.8 283.4,416.3 282.8,416.2 282.1,416.1 281.4,416.4 280.7,416.7 280.1,416.2 279.4,416.9 278.7,416.7 278.1,416.1 277.4,416.4 276.7,417 276.1,416.8 275.4,416.5 274.7,416.4 274.1,416.3 273.4,416.2 272.7,417 272.1,416.8 271.4,416.5 270.7,416.9 270,416.3 269.4,416.7 268.7,416.8 268,416.7 267.4,416.2 266.7,416.5 266,416.3 265.4,416.2 264.7,416.2 264,416.4 263.4,416.1 262.7,416.6 262,416.6 261.3,416.8 260.7,416.3 260,416.9 259.3,416.8 258.7,416.6 258,416.8" fill="#00ff00" />
<polygon points="398,359.2 398.7,359.2 399.3,359.1 400,358.6 400.7,358.6 401.3,358.1 402,358.3 402.7,358.5 403.3,358.6 404,358.3 404.7,357.4 405.3,357.3 406,357.7 406.7,358 407.3,357.1 408,357.6 408.7,356.9 409.4,357.4 410,357.5 410.7,357 411.4,357.1 412,356.5 412.7,356.2 413.4,356 414,356.3 414.7,355.8 415.4,356 416,356.5 416.7,355.6 417.4,355.6 418,355.4 418.7,355.8 419.4,355.3 420,355.1 420.7,354.9 421.4,355.5 422,355.3 422.7,354.7 423.4,354.8 424,354.4 424.7,354.7 425.4,354.6 426,354.1 426.7,354.1 427.4,354.5 428,354.4 428.7,353.7 429.4,353.4 430.1,353.2 430.7,353.3 431.4,353.1 432.1,353.6 432.7,353.1 433.4,353.4 434.1,353.5 434.7,352.7 435.4,353 436.1,352.7 436.7,352.5 437.4,352 438.1,352.2 438.7,351.9 439.4,351.8 440.1,351.7 440.7,351.6 441.4,351.8 442.1,351.6 442.7,352 443.4,351.2 444.1,351.8 444.7,351.1 445.4,350.9 446.1,350.6 446.7,350.9 447.4,350.7 448.1,350.9 448.7,350.7 449.4,350.7 450.1,350.8 450.8,350.2 451.4,350.1 452.1,350 452.8,349.9 453.4,350.4 454.1,349.9 454.8,349.4 455.4,349.4 456.1,349.1 456.8,349.7 457.4,349.6 458.1,349.3 458.8,349.1 459.4,348.7 460.1,348.3 460.8,349 461.4,348.6 462.1,348.2 462.8,348.6 463.4,348.4 464.1,348.1 464.8,348.2 465.4,348 466.1,347.5 466.8,347.4 467.4,347.5 468.1,347.5 468.8,347.1 469.4,347.6 470.1,347.1 470.8,347.3 471.5,346.6 472.1,346.7 472.8,347 473.5,346.9 474.1,346.3 474.8,346.7 475.5,345.9 476.1,345.7 476.8,346.3 477.5,345.9 478.1,345.7 478.8,345.9 479.5,345.5 480.1,345.7 480.8,345.5 481.5,345.3 482.1,345 482.8,344.9 483.5,344.6 484.1,344.4 484.8,344.9 485.5,344.4 486.1,344.8 486.8,344.5 487.5,344 488.1,344.4 488.8,343.9 489.5,343.9 490.1,344 490.8,343.6 491.5,343.9 492.2,343.4 492.8,343.8 493.5,343.7 494.2,343 494.8,342.9 495.5,343.2 496.2,342.8 496.8,343.1 497.5,342.1 498.2,342.5 498.8,342.7 499.5,342.2 500.2,342.1 500.8,342.1 501.5,342.1 501.5,408.3 500.8,408.2 500.2,408.6 499.5,408.2 498.8,408.8 498.2,408.8 497.5,408.7 496.8,408.6 496.2,408.9 495.5,409 494.8,409.4 494.2,408.8 493.5,408.8 492.8,409.4 492.2,409.1 491.5,409.3 490.8,409.1 490.1,409.5 489.5,409.5 488.8,409.8 488.1,409.3 487.5,409.6 486.8,409.2 486.1,410 485.5,409.9 484.8,409.9 484.1,410 483.5,409.7 482.8,410.3 482.1,410 481.5,410.2 480.8,410.1 480.1,410.3 479.5,409.7 478.8,410.1 478.1,409.6 477.5,410.6 476.8,410.2 476.1,410.4 475.5,410.6 474.8,410.7 474.1,410.1 473.5,410.9 472.8,410.1 472.1,410.4 471.5,410.3 470.8,410.9 470.1,410.7 469.4,410.7 468.8,411.1 468.1,410.8 467.4,410.6 466.8,410.5 466.1,410.8 465.4,411 464.8,411.2 464.1,411 463.4,411.3 462.8,411.3 462.1,411.1 461.4,410.8 460.8,411.3 460.1,411.1 459.4,411 458.8,411.4 458.1,411.7 457.4,412 456.8,411.3 456.1,412 455.4,412 454.8,411.6 454.1,411.4 453.4,412.3 452.8,412.2 452.1,412.1 451.4,411.5 450.8,412.2 450.1,411.9 449.4,411.6 448.7,412.1 448.1,412.1 447.4,412.8 446.7,412.3 446.1,412.3 445.4,412.8 444.7,412.8 444.1,412.3 443.4,412.1 442.7,412.7 442.1,412.6 441.4,413.1 440.7,412.5 440.1,412.6 439.4,412.9 438.7,412.9 438.1,412.5 437.4,412.5 436.7,413.4 436.1,413.3 435.4,413.6 434.7,412.9 434.1,413.7 433.4,412.9 432.7,412.9 432.1,413.7 431.4,413.7 430.7,413.2 430.1,413.1 429.4,413 428.7,414 428,413.1 427.4,414 426.7,413.4 426,413.4 425.4,413.4 424.7,413.9 424,413.7 423.4,413.5 422.7,414.1 422,413.7 421.4,414.3 420.7,413.8 420,414.1 419.4,413.7 418.7,414.1 418,414.6 417.4,414.4 416.7,414.6 416,414.3 415.4,414.1 414.7,414.5 414,414.2 413.4,414.5 412.7,414.4 412,414.3 411.4,414.8 410.7,415 410,414.9 409.4,415.2 408.7,415.4 408,414.6 407.3,415.4 406.7,415.2 406,415.5 405.3,415.2 404.7,415.6 404,415.7 403.3,415.6 402.7,415.5 402,415.3 401.3,416 400.7,415.1 400,415.8 399.3,415.1 398.7,415.8 398,415.4" fill="#00ff00" />
<polygon points="502,362.7 502.7,362.9 503.3,362.9 504,362.2 504.7,362.1 505.3,362.1 506,362.6 506.7,361.9 507.3,362.5 508,361.7 508.7,362 509.3,362.5 510,362.3 510.7,361.7 511.3,361.3 512,361.5 512.7,361.5 513.3,362 514,361.6 514.7,361 515.3,361.8 516,361.7 516.7,361 517.3,361.2 518,361.1 518.7,361.1 519.3,361.3 520,361.3 520.7,360.4 521.3,360.8 522,360.8 522.7,360.4 523.3,360.4 524,360.8 524.7,360.4 525.3,360.3 526,359.8 526.7,360.4 527.3,360.5 528,360.2 528.7,360.4 529.3,360.2 530,360 530.7,359.6 531.3,360.1 532,360.1 532.7,359.2 533.3,359.8 534,359.4 534.7,359.1 535.3,359.5 536,358.8 536.7,358.7 537.3,358.9 538,359.1 538.7,359 539.3,359.3 540,359.2 540.7,359.1 541.3,358.6 542,358.5 542.7,358.3 543.3,358.1 544,358.6 544.7,358.5 545.3,358.6 546,358.6 546.7,358.6 547.3,357.9 548,358.2 548.7,358.4 549.3,357.8 550,357.9 550.7,357.3 551.3,357.4 552,357.9 552.7,357.9 553.3,357.5 554,357.2 554.7,357.5 555.3,357.1 556,356.9 556.7,356.8 557.3,356.8 558,357 558.7,356.9 559.3,356.9 560,356.3 560.7,356.3 561.3,356.2 562,356.4 562.7,356.6 563.3,356.1 564,356.2 564.7,356.6 565.3,355.8 566,356.5 566.7,356 567.3,355.6 568,355.6 568.7,355.8 569.3,355.5 570,355.4 570.7,355.4 571.3,355.6 572,355 572.7,355.4 573.3,355.4 574,355 574.7,354.9 575.3,354.7 576,355.1 576.7,355.4 577.3,355 578,355 578.7,355 579.3,354.5 580,355.1 580.7,354.7 581.3,354.8 582,354.7 582.7,354.8 583.3,354.7 584,354.1 584.7,353.9 585.3,354.3 586,353.9 586.7,353.6 587.3,353.7 588,354.3 588.7,353.7 589.3,353.9 590,353.9 590.7,353.2 591.3,353.8 592,353 592.7,353.2 593.3,353.7 594,353.4 594.7,353.4 595.3,353.4 596,353.3 596.7,353 597.3,353.2 598,353.1 598.7,353.2 599.3,353.1 600,353 600.7,352.2 601.3,352.1 602,352.3 602.7,352.3 603.3,352.4 604,352 604,446 603.3,446.1 602.7,446 602,446.7 601.3,446.7 600.7,446.1 600,446.2 599.3,446.9 598.7,446.5 598,446.8 597.3,446.3 596.7,446.7 596,446.4 595.3,446.4 594.7,446.3 594,447.1 593.3,446.6 592.7,447.1 592,446.6 591.3,446.6 590.7,446.8 590,446.8 589.3,446.5 588.7,447 588,446.7 587.3,446.6 586.7,447.3 586,447.5 585.3,447.5 584.7,446.9 584,447.6 583.3,447.3 582.7,447.7 582,447.3 581.3,447.5 580.7,447.1 580,447.8 579.3,447.3 578.7,447.9 578,447.2 577.3,447.7 576.7,447.9 576,447.7 575.3,447.7 574.7,447.8 574,447.4 573.3,447.5 572.7,447.4 572,447.3 571.3,447.4 570.7,447.4 570,448.2 569.3,447.7 568.7,447.5 568,447.1 567.3,447 566.7,446.7 566,446.9 565.3,446.7 564.7,446.1 564,445.6 563.3,445.3 562.7,445.8 562,445.4 561.3,445 560.7,444.7 560,444.7 559.3,444.5 558.7,444 558,444.5 557.3,444.3 556.7,443.4 556,443.2 555.3,443.3 554.7,443.5 554,442.4 553.3,442.1 552.7,442.9 552,442.5 551.3,441.6 550.7,442.1 550,441.5 549.3,441 548.7,441.6 548,441 547.3,440.9 546.7,440.5 546,439.8 545.3,440.5 544.7,440.3 544,439.8 543.3,439.5 542.7,439.3 542,439 541.3,439.4 540.7,438.2 540,438.8 539.3,438.4 538.7,438.4 538,438 537.3,437.9 536.7,437.1 536,437 535.3,437.4 534.7,436.4 534,436.5 533.3,436 532.7,436.6 532,436.3 531.3,436.1 530.7,435.9 530,435.2 529.3,435.2 528.7,434.9 528,435.1 527.3,435 526.7,434.8 526,434.2 525.3,433.6 524.7,433.3 524,433.4 523.3,433.1 522.7,432.8 522,433.1 521.3,432.8 520.7,432.7 520,432.2 519.3,432.4 518.7,432 518,431.7 517.3,431.6 516.7,431.7 516,431.3 515.3,430.5 514.7,430.8 514,430.5 513.3,430.2 512.7,430.3 512,430 511.3,429.1 510.7,429.4 510,429.5 509.3,428.7 508.7,428.7 508,428.4 507.3,428.4 506.7,428 506,427.9 505.3,428.1 504.7,427.2 504,427.6 503.3,426.8 502.7,426.9 502,427.2" fill="#00ff00" />
<polygon points="603.5,339.5 604.2,339.6 604.9,339.1 605.6,339.4 606.3,339 607,339.5 607.7,338.7 608.4,338.7 609,339.5 609.7,339.3 610.4,339 611.1,339.1 611.8,339.3 612.5,338.8 613.2,339.4 613.2,429.6 612.5,429.7 611.8,429.7 611.1,429.2 610.4,429.8 609.7,429.5 609,429.6 608.4,429.9 607.7,429.5 607,429.2 606.3,429.4 605.6,429.2 604.9,429.9 604.2,429.2 603.5,429.3" fill="#00ff00" />
<rect x="130" y="355" width="2" height="15" fill="#fff"/>
<rect x="149.6" y="355" width="1.4" height="13" fill="#fff"/>
<rect x="336.8" y="355" width="1.2" height="16" fill="#fff"/>
<rect x="372.5" y="355" width="1" height="13.7" fill="#fff"/>
<rect x="388.4" y="355" width="1.1" height="13" fill="#fff"/>
<rect x="394.5" y="355" width="1" height="13" fill="#fff"/>
<rect x="419.4" y="335" width="1.6" height="51" fill="#fff"/>
<rect x="426.2" y="335" width="3.4" height="51" fill="#fff"/>
<rect x="433" y="335" width="3.4" height="51" fill="#fff"/>
<rect x="442.5" y="335" width="8.5" height="51" fill="#fff"/>
<rect x="454" y="335" width="3.9" height="51" fill="#fff"/>
<rect x="468" y="335" width="3.4" height="51" fill="#fff"/>
<rect x="481.7" y="335" width="15.1" height="51" fill="#fff"/>
<line x1="524.9" y1="362" x2="524.9" y2="416" stroke="#fff" stroke-width="1.2" />
<rect x="497.7" y="341" width="2.1" height="20" fill="#00ff00"/>
<polyline points="55.8,396.6 108.5,396.6 110,395 258,396.1 260,394 330,394 331,393.4 501.5,392.5 502.5,397.9 604,397.9 605.5,393 614,393" fill="none" stroke="#0000dc" stroke-width="3.4" stroke-linejoin="round" />
<polyline points="106.5,396 108.4,369.4 109.5,400 111,394.5 122,395" fill="none" stroke="#ee0000" stroke-width="2.4" stroke-linejoin="round" />
<polyline points="182.4,396 182.4,408.3" fill="none" stroke="#ee0000" stroke-width="2.4" stroke-linejoin="round" />
<polyline points="259.5,396 259.5,358.3 261,392.2 330,392 330.1,368.5 331.5,390 398.3,389 398.6,380 399.5,389 501,390.3 502,390.3 502,424.2 503,400.9 603.5,400.9 604.5,388.8 606,392 614,392" fill="none" stroke="#ee0000" stroke-width="2.4" stroke-linejoin="round" />
<rect x="55.8" y="291.6" width="558.2" height="192.8" fill="none" stroke="#000" stroke-width="1.4"/>
<path d="M124.2 484.4v-6M124.2 291.6v6M192.9 484.4v-6M192.9 291.6v6M261.6 484.4v-6M261.6 291.6v6M330.3 484.4v-6M330.3 291.6v6M399 484.4v-6M399 291.6v6M467.7 484.4v-6M467.7 291.6v6M536.4 484.4v-6M536.4 291.6v6M605.1 484.4v-6M605.1 291.6v6M55.8 302.6h6M614 302.6h-6M55.8 349.6h6M614 349.6h-6M55.8 396.6h6M614 396.6h-6M55.8 443.6h6M614 443.6h-6" stroke="#000" stroke-width="1.3" fill="none"/>
<line x1="72.3" y1="316.3" x2="91.9" y2="316.3" stroke="#808080" stroke-width="4" />
<line x1="158.1" y1="316.3" x2="178.6" y2="316.3" stroke="#00ff00" stroke-width="4" />
<line x1="217.8" y1="316.3" x2="239.1" y2="316.3" stroke="#ee0000" stroke-width="4" />
<line x1="296.4" y1="316.3" x2="317.7" y2="316.3" stroke="#0000dc" stroke-width="4" />
<text x="93.5" y="318.7" font-size="17" text-anchor="start" >e</text>
<text x="99.8" y="326.3" font-size="12.5" text-anchor="start" >q</text>
<text x="112.3" y="318.7" font-size="17" text-anchor="start" textLength="41.7" lengthAdjust="spacingAndGlyphs" >FUZZY</text>
<text x="180.2" y="318.7" font-size="17" text-anchor="start" >e</text>
<text x="186.5" y="326.3" font-size="12.5" text-anchor="start" >q</text>
<text x="195.7" y="318.7" font-size="17" text-anchor="start" textLength="18.8" lengthAdjust="spacingAndGlyphs" >SM</text>
<text x="240.8" y="318.7" font-size="17" text-anchor="start" >e</text>
<text x="247.1" y="326.3" font-size="12.5" text-anchor="start" >q</text>
<text x="259.6" y="318.7" font-size="17" text-anchor="start" textLength="33.5" lengthAdjust="spacingAndGlyphs" >PI NN</text>
<text x="319.3" y="318.7" font-size="17" text-anchor="start" >e</text>
<text x="325.6" y="326.3" font-size="12.5" text-anchor="start" >q</text>
<text x="338.1" y="318.7" font-size="17" text-anchor="start" textLength="36" lengthAdjust="spacingAndGlyphs" >PI FIX</text>
<text x="53.6" y="308.3" font-size="18" text-anchor="end" textLength="7.8" lengthAdjust="spacingAndGlyphs" >4</text>
<text x="53.6" y="355.3" font-size="18" text-anchor="end" textLength="7.8" lengthAdjust="spacingAndGlyphs" >2</text>
<text x="53.6" y="402.3" font-size="18" text-anchor="end" textLength="7.8" lengthAdjust="spacingAndGlyphs" >0</text>
<text x="53.6" y="449.3" font-size="18" text-anchor="end" textLength="13" lengthAdjust="spacingAndGlyphs" >-2</text>
<text x="56" y="501.6" font-size="18" text-anchor="middle" textLength="7.8" lengthAdjust="spacingAndGlyphs" >0</text>
<text x="124.7" y="501.6" font-size="18" text-anchor="middle" textLength="19.6" lengthAdjust="spacingAndGlyphs" >0.2</text>
<text x="193.4" y="501.6" font-size="18" text-anchor="middle" textLength="19.6" lengthAdjust="spacingAndGlyphs" >0.4</text>
<text x="262.1" y="501.6" font-size="18" text-anchor="middle" textLength="19.6" lengthAdjust="spacingAndGlyphs" >0.6</text>
<text x="330.8" y="501.6" font-size="18" text-anchor="middle" textLength="19.6" lengthAdjust="spacingAndGlyphs" >0.8</text>
<text x="399.5" y="501.6" font-size="18" text-anchor="middle" textLength="7.8" lengthAdjust="spacingAndGlyphs" >1</text>
<text x="468.2" y="501.6" font-size="18" text-anchor="middle" textLength="19.6" lengthAdjust="spacingAndGlyphs" >1.2</text>
<text x="536.9" y="501.6" font-size="18" text-anchor="middle" textLength="19.6" lengthAdjust="spacingAndGlyphs" >1.4</text>
<text x="605.6" y="501.6" font-size="18" text-anchor="middle" textLength="19.6" lengthAdjust="spacingAndGlyphs" >1.6</text>
<text x="333.5" y="520.2" font-size="17" text-anchor="middle" textLength="62.4" lengthAdjust="spacingAndGlyphs" >time (sec)</text>
<text x="0" y="0" font-size="18.5" text-anchor="middle" textLength="131.4" lengthAdjust="spacingAndGlyphs" transform="translate(33.4 385.3) rotate(-90)">current errors (A)</text>
<polygon points="664.3,465.2 665.1,466.3 666,466.5 666.8,466.3 667.7,464.8 668.5,466.3 669.4,465.6 670.2,466.1 671.1,465 671.9,465 672.8,465.4 673.6,466 674.4,466.8 675.3,466.3 676.1,466.7 677,467.1 677.8,465.6 678.7,466.6 679.5,465.6 680.4,467.3 681.2,466.6 682,466.8 682.9,466.3 683.7,466.6 684.6,465.9 685.4,467 686.3,467.7 687.1,466.5 688,467 688.8,466.2 689.6,466.5 690.5,467.4 691.3,466.2 692.2,467.9 693,467.1 693.9,467.5 694.7,467 695.6,466.8 696.4,467.3 697.3,466.5 698.1,466.9 698.9,467.8 699.8,467.2 700.6,468.1 701.5,467.6 702.3,467.2 703.2,468.5 704,467.1 704.9,467.4 705.7,468.3 706.5,468.4 707.4,467.1 708.2,468.7 709.1,467.3 709.9,468.6 710.8,469 711.6,468.5 712.5,467.4 713.3,469 714.2,468.5 715,468.2 715,476.4 714.2,476.4 713.3,476.5 712.5,476.1 711.6,476.2 710.8,476.1 709.9,476.2 709.1,476.1 708.2,476.2 707.4,476.5 706.5,476.2 705.7,476 704.9,476.1 704,476.1 703.2,476.3 702.3,476.2 701.5,476.4 700.6,476.1 699.8,476.3 698.9,476.5 698.1,476.3 697.3,476.3 696.4,476.2 695.6,476.1 694.7,476.1 693.9,476.4 693,476 692.2,476.3 691.3,476.4 690.5,476.1 689.6,476 688.8,476.4 688,476.4 687.1,476.3 686.3,476.4 685.4,476.5 684.6,476.2 683.7,476.3 682.9,476.2 682,476.3 681.2,476.5 680.4,476.3 679.5,476.3 678.7,476.5 677.8,476.3 677,476.3 676.1,476.2 675.3,476.4 674.4,476.5 673.6,476 672.8,476.1 671.9,476.1 671.1,476.3 670.2,476.2 669.4,476.4 668.5,476.4 667.7,476.2 666.8,476.1 666,476.4 665.1,476.3 664.3,476.4" fill="#00ff00" />
<polygon points="719,468.2 719.9,467.7 720.8,467.9 721.7,467.7 722.6,468.1 723.4,468 724.3,467.9 725.2,467.7 726.1,467.7 727,468.1 727,475.5 726.1,475.3 725.2,475 724.3,475.1 723.4,475.1 722.6,475.5 721.7,475.1 720.8,475.3 719.9,475.2 719,475.1" fill="#00ff00" />
<polygon points="727,474.4 727.8,474.5 728.7,474.1 729.5,474.3 730.4,474.4 731.2,474.2 732,474.2 732.9,474.1 733.7,474 734.5,474.3 735.4,474.1 736.2,474.4 737.1,474.2 737.9,474.2 738.7,474.4 739.6,474.5 740.4,474.2 741.2,474.2 742.1,474.3 742.9,474.4 743.8,474.1 744.6,474.4 745.4,474.1 746.3,474.1 747.1,474.1 747.9,474.2 748.8,474.4 749.6,474.1 750.5,474.4 751.3,474.2 752.1,474.4 753,474.4 753.8,474.2 754.6,474.1 755.5,474.2 756.3,474.1 757.2,474.5 758,474.4 758.8,474.5 759.7,474.2 760.5,474.5 761.4,474.4 762.2,474.2 763,474.3 763.9,474.4 764.7,474.4 765.5,474.1 766.4,474.5 767.2,474.5 768.1,474.3 768.9,474.2 769.7,474.2 770.6,474.2 771.4,474.4 772.2,474 773.1,474 773.9,474 774.8,474.3 775.6,474.3 776.4,474.1 777.3,474.3 778.1,474.3 778.9,474.4 779.8,474.2 780.6,474.4 781.5,474.4 782.3,474.2 783.1,474 784,474 784.8,474.1 785.6,474.5 786.5,474.5 787.3,474.1 788.2,474.4 789,474.4 789,476.5 788.2,476.4 787.3,476.5 786.5,476.6 785.6,476.3 784.8,476.6 784,476.7 783.1,476.6 782.3,476.6 781.5,476.3 780.6,476.6 779.8,476.4 778.9,476.6 778.1,476.3 777.3,476.3 776.4,476.4 775.6,476.5 774.8,476.3 773.9,476.2 773.1,476.4 772.2,476.6 771.4,476.6 770.6,476.5 769.7,476.4 768.9,476.6 768.1,476.2 767.2,476.5 766.4,476.6 765.5,476.5 764.7,476.6 763.9,476.6 763,476.5 762.2,476.4 761.4,476.3 760.5,476.6 759.7,476.6 758.8,476.4 758,476.3 757.2,476.5 756.3,476.4 755.5,476.2 754.6,476.4 753.8,476.7 753,476.2 752.1,476.3 751.3,476.6 750.5,476.2 749.6,476.5 748.8,476.6 747.9,476.6 747.1,476.6 746.3,476.6 745.4,476.5 744.6,476.5 743.8,476.6 742.9,476.6 742.1,476.5 741.2,476.5 740.4,476.6 739.6,476.4 738.7,476.4 737.9,476.7 737.1,476.5 736.2,476.6 735.4,476.4 734.5,476.4 733.7,476.6 732.9,476.4 732,476.5 731.2,476.7 730.4,476.4 729.5,476.6 728.7,476.5 727.8,476.5 727,476.3" fill="#00ff00" />
<polygon points="792,469 792.8,470.9 793.7,470.2 794.5,469.3 795.4,470.6 796.2,470.5 797,469.8 797.9,468.9 798.7,469.7 799.6,470.3 800.4,469.4 801.2,470.1 802.1,470.4 802.9,469 803.7,468.4 804.6,468.8 805.4,468.6 806.3,470 807.1,469.7 807.9,469.4 808.8,468.4 809.6,469.1 810.5,468.2 811.3,469.8 812.1,468.6 813,468.9 813.8,469.4 814.7,467.9 815.5,469.5 816.3,469.4 817.2,468.7 818,468.3 818.9,468.6 819.7,468 820.5,468.5 821.4,468 822.2,468.9 823,467.9 823.9,469 824.7,468 825.6,468.7 826.4,468.7 827.2,467.5 828.1,467.8 828.9,468.9 829.8,467 830.6,468.8 831.4,468.4 832.3,468.4 833.1,466.9 834,466.9 834.8,468.3 835.6,467.1 836.5,466.6 837.3,468.1 838.1,468.1 839,468.2 839.8,466.6 840.7,468.3 841.5,467.2 842.3,467.2 843.2,467 844,468 844.9,467 845.7,467.3 846.5,466.5 847.4,466.3 848.2,467 849.1,466.6 849.9,467 850.7,465.8 851.6,467 852.4,466.2 853.3,465.9 854.1,466.9 854.9,466 855.8,466.3 856.6,465.9 857.4,467.3 858.3,466 859.1,466.3 860,466.5 860.8,465.9 861.6,465.7 862.5,465.3 863.3,465.7 864.2,465.7 865,466.1 865,474.9 864.2,474.9 863.3,474.5 862.5,474.9 861.6,474.9 860.8,475 860,474.8 859.1,474.7 858.3,474.8 857.4,474.6 856.6,474.5 855.8,475 854.9,474.6 854.1,474.7 853.3,474.6 852.4,474.9 851.6,474.5 850.7,474.8 849.9,474.6 849.1,474.6 848.2,474.6 847.4,474.9 846.5,474.5 845.7,474.5 844.9,474.6 844,474.5 843.2,474.9 842.3,474.8 841.5,474.9 840.7,474.9 839.8,475 839,474.9 838.1,474.8 837.3,474.9 836.5,474.9 835.6,474.6 834.8,474.5 834,474.6 833.1,474.8 832.3,474.8 831.4,475 830.6,474.5 829.8,474.9 828.9,474.5 828.1,474.9 827.2,474.9 826.4,474.7 825.6,475 824.7,474.5 823.9,475 823,474.7 822.2,474.8 821.4,474.9 820.5,474.7 819.7,474.5 818.9,474.5 818,474.9 817.2,474.8 816.3,474.6 815.5,474.8 814.7,474.7 813.8,474.6 813,474.8 812.1,474.9 811.3,474.7 810.5,474.8 809.6,474.5 808.8,474.9 807.9,474.5 807.1,474.8 806.3,474.5 805.4,474.9 804.6,474.7 803.7,474.7 802.9,475 802.1,475 801.2,474.6 800.4,474.8 799.6,474.6 798.7,474.9 797.9,474.9 797,475 796.2,474.9 795.4,474.6 794.5,474.7 793.7,474.9 792.8,474.6 792,474.7" fill="#00ff00" />
<polygon points="868,465.6 868.8,465 869.7,465.4 870.5,465.2 871.3,465.7 872.2,463.7 873,463.8 873.8,464 874.7,464.1 875.5,465.2 876.4,465.7 877.2,463.8 878,465 878.9,464 879.7,463.9 880.5,465.4 881.4,464.9 882.2,464.8 883,463.4 883.9,464.4 884.7,464.3 885.5,464.6 886.4,463.9 887.2,465.2 888.1,464.8 888.9,465.3 889.7,463.8 890.6,464.9 891.4,463.8 892.2,463.6 893.1,464.7 893.9,465.2 894.7,464.7 895.6,463 896.4,463.8 897.2,463.8 898.1,464.4 898.9,464.9 899.7,464.2 900.6,464.8 901.4,462.9 902.3,464.4 903.1,464.5 903.9,464.2 904.8,463.4 905.6,463.3 906.4,462.8 907.3,463 908.1,463 908.9,462.9 909.8,463.3 910.6,464.7 911.4,462.7 912.3,463.2 913.1,463.2 913.9,464.3 914.8,462.4 915.6,463.1 916.5,464 917.3,464.5 918.1,464.2 919,463.7 919.8,464.1 920.6,463.9 921.5,463.2 922.3,463.8 923.1,463.7 924,462.6 924.8,463.9 925.6,463.4 926.5,462.8 927.3,462.3 928.2,462.7 929,463.6 929.8,463.2 930.7,463.1 931.5,463.9 932.3,463 933.2,463.5 934,463.7 934,479 933.2,479.2 932.3,479.1 931.5,479.1 930.7,479.4 929.8,479.1 929,479 928.2,479.4 927.3,479 926.5,479.2 925.6,479.2 924.8,479.1 924,479.1 923.1,479.2 922.3,479.4 921.5,479.1 920.6,479.2 919.8,479.4 919,479.4 918.1,479.5 917.3,479.4 916.5,479 915.6,479.3 914.8,479.2 913.9,479 913.1,479.1 912.3,479.3 911.4,479.1 910.6,479.1 909.8,479.1 908.9,479.4 908.1,479.1 907.3,479 906.4,479.2 905.6,479 904.8,479.2 903.9,479.2 903.1,479.1 902.3,479.4 901.4,479.3 900.6,479.2 899.7,479.1 898.9,479 898.1,479 897.2,479.3 896.4,479.3 895.6,479.3 894.7,479.1 893.9,479.3 893.1,479.1 892.2,479.4 891.4,479.3 890.6,479.2 889.7,479.5 888.9,479.1 888.1,479.5 887.2,479.1 886.4,479.5 885.5,479.5 884.7,479.5 883.9,479.3 883,479.1 882.2,479.3 881.4,479.3 880.5,479.4 879.7,479.3 878.9,479.4 878,479.4 877.2,479.5 876.4,479.1 875.5,479.2 874.7,479.1 873.8,479.5 873,479.4 872.2,479.3 871.3,479.2 870.5,479.2 869.7,479.2 868.8,479.4 868,479.5" fill="#00ff00" />
<polygon points="937,463.8 937.8,462.6 938.7,464.4 939.5,463 940.3,462.8 941.2,462.8 942,462.6 942.8,464 943.7,462.8 944.5,464.3 945.4,462.7 946.2,463 947,463.6 947.9,464.1 948.7,463.8 949.5,462.5 950.4,464.1 951.2,463.2 952,464.5 952.9,463 953.7,464 954.5,463.3 955.4,464.2 956.2,462.6 957.1,462.8 957.9,462.7 958.7,464 959.6,462.7 960.4,464.1 961.2,463.6 962.1,464.1 962.9,463.3 963.7,463.7 964.6,464.5 965.4,464 966.2,463.5 967.1,463.5 967.9,463.3 968.7,462.8 969.6,462.5 970.4,464 971.3,463.9 972.1,463.8 972.9,464.5 973.8,464.2 974.6,464.5 975.4,464 976.3,463.4 977.1,464.2 977.9,464.3 978.8,464.2 979.6,463.5 980.4,462.7 981.3,464 982.1,463.3 982.9,463.7 983.8,463.2 984.6,462.6 985.5,462.6 986.3,464.4 987.1,464.3 988,463.9 988.8,462.6 989.6,463.7 990.5,462.8 991.3,463.2 992.1,464.3 993,463.2 993.8,462.9 994.6,462.6 995.5,464.3 996.3,463.4 997.2,463.1 998,464 998.8,463.5 999.7,464.4 1000.5,463.3 1001.3,463.2 1002.2,464.5 1003,463.1 1003,467.9 1002.2,467.7 1001.3,467.9 1000.5,467.7 999.7,467.9 998.8,467.8 998,467.7 997.2,467.6 996.3,467.6 995.5,467.9 994.6,467.6 993.8,467.9 993,467.8 992.1,467.6 991.3,467.8 990.5,467.9 989.6,467.8 988.8,467.9 988,467.6 987.1,467.5 986.3,468 985.5,467.7 984.6,467.6 983.8,467.9 982.9,467.9 982.1,467.7 981.3,467.6 980.4,467.5 979.6,467.8 978.8,467.6 977.9,468 977.1,467.6 976.3,467.9 975.4,467.7 974.6,467.8 973.8,467.9 972.9,467.7 972.1,467.8 971.3,467.7 970.4,468 969.6,467.7 968.7,467.6 967.9,467.6 967.1,468 966.2,468 965.4,467.7 964.6,468 963.7,467.8 962.9,468 962.1,467.9 961.2,467.6 960.4,467.5 959.6,467.5 958.7,467.8 957.9,467.6 957.1,467.7 956.2,467.9 955.4,467.9 954.5,467.8 953.7,467.7 952.9,467.8 952,467.7 951.2,467.8 950.4,467.5 949.5,467.7 948.7,467.6 947.9,467.8 947,467.7 946.2,467.5 945.4,467.7 944.5,467.6 943.7,467.6 942.8,467.6 942,467.8 941.2,467.6 940.3,468 939.5,467.8 938.7,467.6 937.8,467.8 937,467.7" fill="#00ff00" />
<polygon points="1005,462.6 1005.7,461.9 1006.3,463.5 1007,461.9 1007.7,463.1 1008.3,462 1009,462.4 1009.7,462.5 1010.3,463.7 1011,463.5 1011.7,463.9 1012.3,463.1 1013,463.8 1013.7,461.9 1014.3,463.2 1015,463 1015.7,462.9 1016.3,462.5 1017,463.2 1017.7,462.3 1018.3,462.6 1019,462.4 1019.7,463.6 1020.3,463.3 1021,462.2 1021.7,462.1 1022.3,462.7 1023,464 1023.7,462.4 1024.3,463.8 1025,463.6 1025.7,464 1026.3,463.4 1027,461.8 1027.7,463.7 1028.3,461.9 1029,463.3 1029.7,463.3 1030.3,462.9 1031,463.9 1031.7,463.6 1032.3,462.6 1033,463.4 1033.7,462.4 1034.3,462.9 1035,462 1035.7,463.9 1036.3,462.5 1037,462.4 1037.7,462.2 1038.3,463.8 1039,463.6 1039.7,462.2 1040.3,463.5 1041,462.5 1041.7,463.7 1042.3,462.7 1043,462.6 1043.7,463.4 1044.3,462.8 1045,463.9 1045.7,463.5 1046.3,462.6 1047,462.6 1047.7,463.5 1048.3,462.5 1049,463.7 1049.7,462.3 1050.3,462.3 1051,461.8 1051.7,462.6 1052.3,462.9 1053,462.5 1053.7,461.3 1054.3,460.1 1055,460.8 1055.7,461.3 1056.3,460.1 1057,459.4 1057.7,459 1058.3,460.3 1059,459.1 1059.7,458.4 1060.3,458.9 1061,454 1061.7,454.8 1062.3,453.6 1063,454.4 1063.7,454.8 1064.3,455.3 1065,453.8 1065.7,455.7 1066.3,454.7 1067,456 1067.7,454.5 1068.3,456.1 1069,456.2 1069.7,456.3 1070.3,454.8 1071,456.3 1071.7,456.3 1072.3,454.9 1073,456.4 1073.7,455.9 1074.3,456.6 1075,454.8 1075.7,456.5 1076.3,455.1 1077,456.1 1077.7,455.9 1078.3,456.3 1079,455.8 1079.7,457 1080.3,457.3 1081,456.8 1081.7,457.1 1082.3,455.5 1083,455.9 1083.7,457.5 1084.3,457.2 1085,457.1 1085.7,456.1 1086.3,458.1 1087,456.8 1087.7,456.2 1088.3,456.4 1089,457.8 1089.7,457.6 1090.3,457.7 1091,458.1 1091.7,457.7 1092.3,456.8 1093,458.2 1093.7,457.1 1094.3,457.3 1095,457.2 1095.7,457.6 1096.3,457.3 1097,458 1097.7,457.5 1098.3,457.5 1099,457.5 1099.7,457.4 1100.3,458 1101,459.5 1101.7,458.5 1102.3,459 1103,458.1 1103.7,459.4 1104.3,459.4 1105,459.3 1105,464 1104.3,464.1 1103.7,464.2 1103,464.4 1102.3,464.4 1101.7,464.2 1101,464.4 1100.3,464.3 1099.7,464.4 1099,464.1 1098.3,464.4 1097.7,464.2 1097,464.2 1096.3,464.1 1095.7,464.2 1095,464.1 1094.3,464.4 1093.7,464.5 1093,464.5 1092.3,464.4 1091.7,464.3 1091,464.5 1090.3,464.1 1089.7,464.2 1089,464.2 1088.3,464.4 1087.7,464.2 1087,464.4 1086.3,464.4 1085.7,464.3 1085,464.4 1084.3,464.1 1083.7,464.4 1083,464.2 1082.3,464.1 1081.7,464.2 1081,464.1 1080.3,464.4 1079.7,464.5 1079,464.1 1078.3,464.4 1077.7,464.1 1077,464.5 1076.3,464.5 1075.7,464.4 1075,464.1 1074.3,464.1 1073.7,464.2 1073,464.4 1072.3,464.1 1071.7,464.3 1071,464 1070.3,464.1 1069.7,464.1 1069,464.5 1068.3,464.2 1067.7,464.2 1067,464.4 1066.3,464.1 1065.7,464.2 1065,464.5 1064.3,464 1063.7,464.3 1063,464.1 1062.3,464.5 1061.7,464.2 1061,464.4 1060.3,464.2 1059.7,467.1 1059,467.1 1058.3,467.2 1057.7,467.1 1057,467.3 1056.3,467.2 1055.7,467.3 1055,467.1 1054.3,467.4 1053.7,467.1 1053,467 1052.3,467.3 1051.7,467.4 1051,467.2 1050.3,467.5 1049.7,467.4 1049,467.1 1048.3,467.1 1047.7,467.2 1047,467.5 1046.3,467.3 1045.7,467.1 1045,467.4 1044.3,467.4 1043.7,467.2 1043,467.1 1042.3,467.1 1041.7,467.1 1041,467.3 1040.3,467 1039.7,467.4 1039,467.4 1038.3,467.3 1037.7,467.4 1037,467.1 1036.3,467.2 1035.7,467.1 1035,467.3 1034.3,467.1 1033.7,467.2 1033,467.4 1032.3,467.3 1031.7,467 1031,467 1030.3,467.1 1029.7,467.2 1029,467.3 1028.3,467.1 1027.7,467.5 1027,467 1026.3,467.4 1025.7,467.1 1025,467.3 1024.3,467 1023.7,467.1 1023,467.3 1022.3,467.1 1021.7,467.4 1021,467.3 1020.3,467.1 1019.7,467.4 1019,467.5 1018.3,467.3 1017.7,467.4 1017,467.5 1016.3,467.1 1015.7,467 1015,467.1 1014.3,467.4 1013.7,467.3 1013,467.3 1012.3,467.2 1011.7,467.1 1011,467.1 1010.3,467.1 1009.7,467.4 1009,467.2 1008.3,467.1 1007.7,467.5 1007,467.1 1006.3,467.2 1005.7,467.4 1005,467.1" fill="#00ff00" />
<polygon points="1109,474.7 1109.9,475.4 1110.7,474.8 1111.6,475 1112.5,474.7 1113.3,475.2 1114.2,474.6 1115,474.6 1115.9,475.2 1116.8,474.9 1117.6,474.9 1118.5,475 1119.4,475.1 1120.2,474.8 1121.1,475.1 1122,474.5 1122.8,475.4 1123.7,475.5 1124.5,475.1 1125.4,475.1 1126.3,475 1127.1,474.7 1128,475.3 1128,478.9 1127.1,478.7 1126.3,478.9 1125.4,478.5 1124.5,478.9 1123.7,478.8 1122.8,479 1122,478.8 1121.1,478.7 1120.2,478.6 1119.4,478.9 1118.5,478.7 1117.6,478.9 1116.8,478.6 1115.9,478.9 1115,478.9 1114.2,478.7 1113.3,478.8 1112.5,479 1111.6,478.7 1110.7,478.6 1109.9,478.5 1109,478.6" fill="#00ff00" />
<polygon points="1128,470.4 1128.8,466.4 1129.7,463.5 1130.5,459.1 1131.4,456.3 1132.2,456.1 1133,457.2 1133.9,457.5 1134.7,459.1 1135.5,458.3 1136.4,459.6 1137.2,460.2 1138.1,461.4 1138.9,463.1 1139.7,464.3 1140.6,464.1 1141.4,463.3 1142.3,464.2 1143.1,464.2 1143.9,464.1 1144.8,464.6 1145.6,465 1146.5,464.8 1147.3,464.8 1148.1,465.8 1149,464.4 1149.8,465.5 1150.6,465 1151.5,464.9 1152.3,465.8 1153.2,464.9 1154,465 1154.8,465.9 1155.7,464.7 1156.5,464.7 1157.4,466.5 1158.2,465.2 1159,466.6 1159.9,465.7 1160.7,466.4 1161.5,466.6 1162.4,466.9 1163.2,466.1 1164.1,467 1164.9,467.3 1165.7,466.9 1166.6,467.3 1167.4,466.8 1168.3,466.8 1169.1,466.9 1169.9,466.8 1170.8,467.7 1171.6,466.7 1172.5,467.4 1173.3,467.4 1174.1,467 1175,468.1 1175.8,467.4 1176.6,466.9 1177.5,468 1178.3,466.9 1179.2,468 1180,467.8 1180.8,467.6 1181.7,468.8 1182.5,467.5 1183.4,468.1 1184.2,468.7 1185,468.3 1185.9,469.2 1186.7,467.8 1187.5,469.6 1188.4,468.8 1189.2,469.1 1190.1,469.2 1190.9,468.2 1191.7,469.1 1192.6,469.4 1193.4,468.7 1194.3,469.6 1195.1,469.7 1195.9,469.4 1196.8,469.9 1197.6,470.4 1198.5,470.7 1199.3,470.7 1200.1,470.6 1201,470.9 1201.8,469.6 1202.6,469.3 1203.5,470.2 1204.3,471.2 1205.2,470.5 1206,470 1206,474.9 1205.2,474.6 1204.3,475 1203.5,475 1202.6,475.1 1201.8,475 1201,474.8 1200.1,474.8 1199.3,475.1 1198.5,474.8 1197.6,475.1 1196.8,475.2 1195.9,475 1195.1,475.3 1194.3,475.1 1193.4,475 1192.6,475.2 1191.7,475.1 1190.9,475.3 1190.1,475.3 1189.2,475.5 1188.4,475.3 1187.5,475.3 1186.7,475.5 1185.9,475.2 1185,475.4 1184.2,475.7 1183.4,475.6 1182.5,475.6 1181.7,475.5 1180.8,475.8 1180,475.7 1179.2,475.5 1178.3,475.6 1177.5,475.7 1176.6,475.8 1175.8,475.5 1175,475.9 1174.1,475.7 1173.3,475.7 1172.5,475.8 1171.6,476.1 1170.8,475.7 1169.9,475.7 1169.1,475.8 1168.3,476.2 1167.4,476.2 1166.6,476 1165.7,476 1164.9,475.9 1164.1,476 1163.2,476 1162.4,476.1 1161.5,476 1160.7,476.3 1159.9,476.5 1159,476.2 1158.2,476.4 1157.4,476.1 1156.5,476.3 1155.7,476.1 1154.8,476.6 1154,476.5 1153.2,476.6 1152.3,476.5 1151.5,476.7 1150.6,476.4 1149.8,476.4 1149,476.7 1148.1,476.5 1147.3,476.4 1146.5,476.7 1145.6,476.6 1144.8,476.8 1143.9,476.9 1143.1,476.6 1142.3,477 1141.4,477 1140.6,477 1139.7,476.6 1138.9,477.1 1138.1,477.1 1137.2,477 1136.4,476.8 1135.5,477 1134.7,477.3 1133.9,477.1 1133,477.1 1132.2,477.2 1131.4,477 1130.5,477.4 1129.7,477.1 1128.8,477.5 1128,477.1" fill="#00ff00" />
<polygon points="1210,459.4 1210.9,458.7 1211.7,459.1 1212.6,459.9 1213.5,459.8 1214.3,458.9 1215.2,459.8 1215.2,466.6 1214.3,466.8 1213.5,466.5 1212.6,466.5 1211.7,467 1210.9,466.9 1210,466.5" fill="#00ff00" />
<polyline points="664.3,475.8 715,475.8" fill="none" stroke="#808080" stroke-width="1.5" stroke-linejoin="round" />
<polyline points="719,473 789,473" fill="none" stroke="#808080" stroke-width="3" stroke-linejoin="round" />
<polyline points="792,475.5 865,475.5" fill="none" stroke="#808080" stroke-width="2.4" stroke-linejoin="round" />
<polyline points="937,475.5 1003,475.5 1006,477.4 1105,477.4" fill="none" stroke="#808080" stroke-width="2.2" stroke-linejoin="round" stroke-dasharray="5 3"/>
<polyline points="1110,474 1125.8,479.2 1140,476 1143.8,451 1173,437.7 1205,434 1207,434" fill="none" stroke="#808080" stroke-width="2.6" stroke-linejoin="round" stroke-dasharray="6 3"/>
<polyline points="1210,440 1215,445" fill="none" stroke="#808080" stroke-width="2" stroke-linejoin="round" />
<polyline points="664.3,477 866,477 868,474.5 905,474.3 915,472 934,472 937,468.9 1003,468.9 1006,467.6 1090,467.6 1105,470.2" fill="none" stroke="#0000dc" stroke-width="2.6" stroke-linejoin="round" />
<polyline points="1110,473 1171,479.2 1206,474.5" fill="none" stroke="#0000dc" stroke-width="2.6" stroke-linejoin="round" />
<polyline points="1210,466 1215.2,466" fill="none" stroke="#0000dc" stroke-width="2.6" stroke-linejoin="round" />
<polyline points="664.3,478.2 715,478.2" fill="none" stroke="#ee0000" stroke-width="3.4" stroke-linejoin="round" />
<polyline points="718,477.7 789,477.7" fill="none" stroke="#ee0000" stroke-width="3.4" stroke-linejoin="round" />
<polyline points="792,478.2 865,477.4" fill="none" stroke="#ee0000" stroke-width="3.4" stroke-linejoin="round" />
<polyline points="868,474.5 934,473.6" fill="none" stroke="#ee0000" stroke-width="3.4" stroke-linejoin="round" />
<polyline points="937,470.8 1003,471.3" fill="none" stroke="#ee0000" stroke-width="3.4" stroke-linejoin="round" />
<polyline points="1005,471.7 1040,473.6 1105,476.5" fill="none" stroke="#ee0000" stroke-width="3.2" stroke-linejoin="round" />
<polyline points="1110,472.6 1206,477.4" fill="none" stroke="#ee0000" stroke-width="3.4" stroke-linejoin="round" />
<polyline points="1210,472.6 1215.2,472.6" fill="none" stroke="#ee0000" stroke-width="3.4" stroke-linejoin="round" />
<polygon points="715.8,476 716,362.6 716.6,408 717.3,453.3 718.3,470.3 719.6,476" fill="#00ff00" stroke="#00ff00" stroke-width="2.2" stroke-linejoin="round"/>
<polygon points="715.8,476 716,371.7 716.6,413.4 717.3,455.1 718.3,470.8 719.6,476" fill="#808080" stroke="#808080" stroke-width="2.6" stroke-linejoin="round"/>
<polygon points="715.8,476 716,367.2 716.6,410.7 717.3,454.2 718.3,470.6 719.6,476" fill="#0000dc" stroke="#0000dc" stroke-width="1.3" stroke-linejoin="round"/>
<polygon points="715.8,478 716,429 716.6,448.6 717.3,468.2 718.3,475.6 719.6,478" fill="#ee0000" stroke="#ee0000" stroke-width="2.8" stroke-linejoin="round"/>
<polygon points="789.8,476 790,422.1 790.6,443.7 791.3,465.2 792.3,473.3 793.6,476" fill="#808080" stroke="#808080" stroke-width="2.6" stroke-linejoin="round"/>
<polyline points="789.8,476 790,425 790.6,445.4 791.3,465.8 792.3,473.4 793.6,476" fill="none" stroke="#0000dc" stroke-width="1.3" stroke-linejoin="round" stroke-dasharray="2 3"/>
<polygon points="789.8,478 790,453.7 790.6,463.4 791.3,473.1 792.3,476.8 793.6,478" fill="#ee0000" stroke="#ee0000" stroke-width="2.8" stroke-linejoin="round"/>
<polygon points="865.8,476 866,298.6 866.6,369.6 867.3,440.5 868.3,467.1 869.6,476" fill="#00ff00" stroke="#00ff00" stroke-width="2.2" stroke-linejoin="round"/>
<polygon points="865.8,476 866,321.6 866.6,383.4 867.3,445.1 868.3,468.3 869.6,476" fill="#808080" stroke="#808080" stroke-width="2.6" stroke-linejoin="round"/>
<polyline points="865.8,476 866,311.5 866.6,377.3 867.3,443.1 868.3,467.8 869.6,476" fill="none" stroke="#0000dc" stroke-width="1.3" stroke-linejoin="round" stroke-dasharray="2 3"/>
<polygon points="865.8,478 866,401.2 866.6,431.9 867.3,462.6 868.3,474.2 869.6,478" fill="#ee0000" stroke="#ee0000" stroke-width="2.8" stroke-linejoin="round"/>
<polygon points="934.8,473 935,336.6 935.6,391.2 936.3,445.7 937.3,466.2 938.6,473" fill="#00ff00" stroke="#00ff00" stroke-width="2.2" stroke-linejoin="round"/>
<polygon points="934.8,473 935,372.8 935.6,412.9 936.3,453 937.3,468 938.6,473" fill="#808080" stroke="#808080" stroke-width="2.6" stroke-linejoin="round"/>
<polygon points="934.8,473 935,360 935.6,405.2 936.3,450.4 937.3,467.4 938.6,473" fill="#0000dc" stroke="#0000dc" stroke-width="1.3" stroke-linejoin="round"/>
<polygon points="934.8,475 935,419.2 935.6,441.5 936.3,463.8 937.3,472.2 938.6,475" fill="#ee0000" stroke="#ee0000" stroke-width="2.8" stroke-linejoin="round"/>
<polygon points="1003.1,470 1003.3,392.3 1003.9,423.4 1004.6,454.5 1005.6,466.1 1006.9,470" fill="#00ff00" stroke="#00ff00" stroke-width="2.2" stroke-linejoin="round"/>
<polygon points="1003.1,470 1003.3,427 1003.9,444.2 1004.6,461.4 1005.6,467.9 1006.9,470" fill="#808080" stroke="#808080" stroke-width="2.6" stroke-linejoin="round"/>
<polygon points="1003.1,470 1003.3,414 1003.9,436.4 1004.6,458.8 1005.6,467.2 1006.9,470" fill="#0000dc" stroke="#0000dc" stroke-width="1.3" stroke-linejoin="round"/>
<polygon points="1003.1,472 1003.3,443.2 1003.9,454.7 1004.6,466.2 1005.6,470.6 1006.9,472" fill="#ee0000" stroke="#ee0000" stroke-width="2.8" stroke-linejoin="round"/>
<polygon points="1105.8,474 1106,15.3 1106.6,198.8 1107.3,382.3 1108.3,451.1 1109.6,474" fill="#00ff00" stroke="#00ff00" stroke-width="2.2" stroke-linejoin="round"/>
<polygon points="1105.8,474 1106,127 1106.6,265.8 1107.3,404.6 1108.3,456.6 1109.6,474" fill="#808080" stroke="#808080" stroke-width="2.6" stroke-linejoin="round"/>
<polyline points="1105.8,474 1106,127 1106.6,265.8 1107.3,404.6 1108.3,456.6 1109.6,474" fill="none" stroke="#0000dc" stroke-width="1.3" stroke-linejoin="round" stroke-dasharray="2 3"/>
<polygon points="1105.8,476 1106,293.5 1106.6,366.5 1107.3,439.5 1108.3,466.9 1109.6,476" fill="#ee0000" stroke="#ee0000" stroke-width="2.8" stroke-linejoin="round"/>
<polygon points="1207.8,474 1208,212 1208.6,316.8 1209.3,421.6 1210.3,460.9 1211.6,474" fill="#00ff00" stroke="#00ff00" stroke-width="2.2" stroke-linejoin="round"/>
<polygon points="1207.8,474 1208,243.7 1208.6,335.8 1209.3,427.9 1210.3,462.5 1211.6,474" fill="#808080" stroke="#808080" stroke-width="2.6" stroke-linejoin="round"/>
<polyline points="1207.8,474 1208,243.7 1208.6,335.8 1209.3,427.9 1210.3,462.5 1211.6,474" fill="none" stroke="#0000dc" stroke-width="1.3" stroke-linejoin="round" stroke-dasharray="2 3"/>
<polygon points="1207.8,476 1208,372.2 1208.6,413.7 1209.3,455.2 1210.3,470.8 1211.6,476" fill="#ee0000" stroke="#ee0000" stroke-width="2.8" stroke-linejoin="round"/>
<rect x="663.5" y="10.6" width="552.5" height="474.6" fill="none" stroke="#000" stroke-width="1.4"/>
<path d="M731.4 485.2v-7M731.4 10.6v7M799.3 485.2v-7M799.3 10.6v7M867.2 485.2v-7M867.2 10.6v7M935.1 485.2v-7M935.1 10.6v7M1003 485.2v-7M1003 10.6v7M1070.9 485.2v-7M1070.9 10.6v7M1138.8 485.2v-7M1138.8 10.6v7M1206.7 485.2v-7M1206.7 10.6v7M663.5 478.8h7M1216 478.8h-7M663.5 418.8h7M1216 418.8h-7M663.5 358.8h7M1216 358.8h-7M663.5 298.8h7M1216 298.8h-7M663.5 238.8h7M1216 238.8h-7M663.5 178.8h7M1216 178.8h-7M663.5 118.8h7M1216 118.8h-7M663.5 58.8h7M1216 58.8h-7" stroke="#000" stroke-width="1.3" fill="none"/>
<text x="660.2" y="484.5" font-size="18" text-anchor="end" textLength="7.8" lengthAdjust="spacingAndGlyphs" >0</text>
<text x="660.2" y="424.5" font-size="18" text-anchor="end" textLength="7.8" lengthAdjust="spacingAndGlyphs" >5</text>
<text x="660.2" y="364.5" font-size="18" text-anchor="end" textLength="15.7" lengthAdjust="spacingAndGlyphs" >10</text>
<text x="660.2" y="304.5" font-size="18" text-anchor="end" textLength="15.7" lengthAdjust="spacingAndGlyphs" >15</text>
<text x="660.2" y="244.5" font-size="18" text-anchor="end" textLength="15.7" lengthAdjust="spacingAndGlyphs" >20</text>
<text x="660.2" y="184.5" font-size="18" text-anchor="end" textLength="15.7" lengthAdjust="spacingAndGlyphs" >25</text>
<text x="660.2" y="124.5" font-size="18" text-anchor="end" textLength="15.7" lengthAdjust="spacingAndGlyphs" >30</text>
<text x="660.2" y="64.5" font-size="18" text-anchor="end" textLength="15.7" lengthAdjust="spacingAndGlyphs" >35</text>
<text x="663.7" y="502.8" font-size="18" text-anchor="middle" textLength="7.8" lengthAdjust="spacingAndGlyphs" >0</text>
<text x="731.6" y="502.8" font-size="18" text-anchor="middle" textLength="19.6" lengthAdjust="spacingAndGlyphs" >0.2</text>
<text x="799.5" y="502.8" font-size="18" text-anchor="middle" textLength="19.6" lengthAdjust="spacingAndGlyphs" >0.4</text>
<text x="867.4" y="502.8" font-size="18" text-anchor="middle" textLength="19.6" lengthAdjust="spacingAndGlyphs" >0.6</text>
<text x="935.3" y="502.8" font-size="18" text-anchor="middle" textLength="19.6" lengthAdjust="spacingAndGlyphs" >0.8</text>
<text x="1003.2" y="502.8" font-size="18" text-anchor="middle" textLength="7.8" lengthAdjust="spacingAndGlyphs" >1</text>
<text x="1071.1" y="502.8" font-size="18" text-anchor="middle" textLength="19.6" lengthAdjust="spacingAndGlyphs" >1.2</text>
<text x="1139" y="502.8" font-size="18" text-anchor="middle" textLength="19.6" lengthAdjust="spacingAndGlyphs" >1.4</text>
<text x="1206.9" y="502.8" font-size="18" text-anchor="middle" textLength="19.6" lengthAdjust="spacingAndGlyphs" >1.6</text>
<text x="938.8" y="521.5" font-size="17" text-anchor="middle" textLength="62.8" lengthAdjust="spacingAndGlyphs" >time (sec)</text>
<g transform="translate(631.6 316) rotate(-90)">
<text x="0" y="0" font-size="19" text-anchor="start" >e</text>
<text x="8.5" y="7.2" font-size="12" text-anchor="start" >ω</text>
<text x="22.9" y="0" font-size="20" text-anchor="start" textLength="52.1" lengthAdjust="spacingAndGlyphs" >speeds</text>
<text x="79.5" y="0" font-size="19" text-anchor="start" textLength="65" lengthAdjust="spacingAndGlyphs" >(rad/sec)</text>
</g>
<text x="636.6" y="37.4" font-size="32" text-anchor="start" textLength="25" lengthAdjust="spacingAndGlyphs" >b)</text>
<line x1="1128.5" y1="27.2" x2="1148.8" y2="27.2" stroke="#00ff00" stroke-width="3.5" />
<text x="1150.4" y="29.7" font-size="17" text-anchor="start" >e</text>
<text x="1156.5" y="37.2" font-size="11.5" text-anchor="start" >ω</text>
<text x="1167.5" y="29.7" font-size="17" text-anchor="start" textLength="19.5" lengthAdjust="spacingAndGlyphs" >SM</text>
<line x1="1128.5" y1="54.1" x2="1148.8" y2="54.1" stroke="#0000dc" stroke-width="3.5" />
<text x="1150.4" y="56.6" font-size="17" text-anchor="start" >e</text>
<text x="1156.5" y="64.1" font-size="11.5" text-anchor="start" >ω</text>
<text x="1167.5" y="56.6" font-size="17" text-anchor="start" textLength="35" lengthAdjust="spacingAndGlyphs" >PI FIX</text>
<line x1="1128.5" y1="78.7" x2="1148.8" y2="78.7" stroke="#808080" stroke-width="3.5" stroke-dasharray="6 2"/>
<text x="1150.4" y="81.2" font-size="17" text-anchor="start" >e</text>
<text x="1156.5" y="88.7" font-size="11.5" text-anchor="start" >ω</text>
<text x="1167.5" y="81.2" font-size="17" text-anchor="start" textLength="40" lengthAdjust="spacingAndGlyphs" >FUZZY</text>
<line x1="1128.5" y1="104.8" x2="1148.8" y2="104.8" stroke="#c01010" stroke-width="3.5" />
<text x="1150.4" y="107.3" font-size="17" text-anchor="start" >e</text>
<text x="1156.5" y="114.8" font-size="11.5" text-anchor="start" >ω</text>
<text x="1167.5" y="107.3" font-size="17" text-anchor="start" textLength="32" lengthAdjust="spacingAndGlyphs" >PI NN</text>
<rect x="677.8" y="26.2" width="178.8" height="308.4" fill="#fff"/>
<polygon points="678.8,289.9 679.3,293.8 679.7,291.2 680.2,290.2 680.7,294.1 681.2,290.8 681.6,291.7 682.1,291.2 682.6,291.3 683.1,290.7 683.5,293.3 684,293.2 684.5,289 685,298.8 685.4,292.3 685.9,291 686.4,293.6 686.9,290.9 687.3,293 687.8,294 688.3,292.8 688.8,289.8 689.2,290.4 689.7,293.7 690.2,292.8 690.7,291.9 691.1,289.4 691.6,298.2 692.1,292.6 692.6,296.7 693,290.1 693.5,290.9 694,294 694.5,293 694.9,293.3 695.4,298.1 695.9,301.3 696.3,298.4 696.8,290.2 697.3,299.1 697.8,289.2 698.2,292.6 698.7,294.9 699.2,294.1 699.7,289.8 700.1,292.9 700.6,290.1 701.1,293.9 701.6,291.7 702,289.5 702.5,292.4 703,291.3 703.5,299.8 703.9,292.3 704.4,291.5 704.9,291.8 705.4,289.8 705.8,293.8 706.3,291.9 706.8,291.7 707.3,292.6 707.7,291.8 708.2,290.8 708.7,291.7 709.2,290.8 709.6,293.8 710.1,294.3 710.6,299.1 711.1,292.4 711.5,292.4 712,289.2 712.5,290.6 713,291.1 713.4,294.9 713.9,301.6 714.4,293.4 714.8,293.8 715.3,289.3 715.8,289.6 716.3,289.7 716.7,293.8 717.2,292.1 717.7,292.6 718.2,293.5 718.6,295.1 719.1,289.8 719.6,291.8 720.1,292.9 720.5,292.8 721,294.5 721.5,290.7 722,292.4 722.4,291.5 722.9,290.6 723.4,289.4 723.9,290.5 724.3,293 724.8,293.5 725.3,290.9 725.8,297.9 726.2,291.5 726.7,292.7 727.2,289.8 727.7,300.4 728.1,290.1 728.6,289.4 729.1,290.7 729.6,290.1 730,291.8 730.5,294 730.5,304 730,308.4 729.6,309.9 729.1,309.7 728.6,312.9 728.1,305 727.7,303 727.2,307.3 726.7,308.1 726.2,304 725.8,303.6 725.3,311.5 724.8,307.3 724.3,306.2 723.9,312.4 723.4,307.2 722.9,306.3 722.4,309 722,307.5 721.5,305.2 721,306.9 720.5,311.2 720.1,305.4 719.6,308.4 719.1,308.7 718.6,311 718.2,304.4 717.7,306.6 717.2,304.6 716.7,312.9 716.3,309.6 715.8,305.7 715.3,312.8 714.8,310 714.4,306.2 713.9,305.7 713.4,304.8 713,308.9 712.5,303.1 712,312.7 711.5,303 711.1,312.9 710.6,309.7 710.1,305.1 709.6,312.7 709.2,306 708.7,309.7 708.2,309.3 707.7,309.9 707.3,309.3 706.8,303.3 706.3,306.9 705.8,304.4 705.4,306.7 704.9,308.9 704.4,306.7 703.9,307.7 703.5,308.5 703,312.6 702.5,305.3 702,311.1 701.6,307.4 701.1,309.3 700.6,309.1 700.1,312.1 699.7,307.7 699.2,306.4 698.7,311.1 698.2,306.4 697.8,307.7 697.3,311.9 696.8,303.3 696.3,306.8 695.9,308.4 695.4,304.4 694.9,312.5 694.5,307.6 694,308.7 693.5,312.4 693,305.8 692.6,310.2 692.1,310.3 691.6,307.4 691.1,304 690.7,312.3 690.2,312.1 689.7,304.5 689.2,303.8 688.8,307.9 688.3,309.1 687.8,306.2 687.3,311.2 686.9,312 686.4,306.2 685.9,312.6 685.4,310.3 685,307.1 684.5,310.9 684,309.9 683.5,308.6 683.1,312.4 682.6,309 682.1,308.8 681.6,303.3 681.2,303.6 680.7,304.5 680.2,312.9 679.7,305.5 679.3,312.8 678.8,309.7" fill="#00ff00" />
<polygon points="752,294.3 752.7,294.3 753.4,293.3 754.1,296 754.8,295.9 755.5,295.3 756.2,296.1 756.9,299.6 757.6,300.8 758.3,300.2 759,300.6 759.7,299.7 760.4,301.3 761.1,302.3 761.8,303.1 762.5,300.5 763.2,299.1 763.9,299.5 764.6,298.4 765.3,299.4 766,300.4 766.7,301.4 767.4,300.9 768.1,301.8 768.8,300.2 769.4,300.3 770.1,300.4 770.8,300.8 771.5,300.7 772.2,300.8 772.9,301.1 773.6,301.8 774.3,300.6 775,299.9 775.7,290.5 776.4,287.4 777.1,291.5 777.8,291.2 778.5,295 779.2,298.8 779.9,279.5 780.6,283.7 781.3,285 782,294 782.7,296 783.4,296.9 784.1,297.7 784.8,297.7 785.5,298.8 786.2,291.8 786.9,295.4 787.6,295.3 788.3,292.2 789,292.9 789.7,298.1 790.4,300.2 791.1,299 791.8,299.7 792.5,300.2 793.2,298.6 793.9,292 794.6,292.6 795.3,293.9 796,286.6 796.7,284.5 797.4,288.7 798.1,287 798.8,281.6 799.5,283.9 800.2,293.6 800.9,297.2 801.6,299 802.3,286.3 803,283.9 803.7,292.7 804.3,298 805,300 805.7,300.6 806.4,300.4 807.1,300 807.8,300.7 808.5,301.9 809.2,302.4 809.9,302.4 810.6,302.5 811.3,302.4 812,302.6 812.7,303.1 813.4,302.4 814.1,291.4 814.8,288.1 815.5,291 816.2,291.9 816.9,291.6 817.6,290.6 818.3,295.6 819,298.7 819.7,299.2 820.4,300.8 821.1,300.4 821.8,300.6 822.5,300 823.2,301.9 823.9,300.4 824.6,301.6 825.3,302.7 826,300.5 826.7,299.2 827.4,300.4 828.1,302 828.8,302.6 829.5,302.3 830.2,300.1 830.9,299.3 831.6,298.8 832.3,301.1 833,300.4 833.7,299.8 834.4,300.3 835.1,301.2 835.8,301.7 836.5,302.1 837.2,301.7 837.9,302.8 838.6,300.3 839.2,300.9 839.9,301.1 840.6,299.3 841.3,298.9 842,300.2 842.7,301.1 843.4,301.3 844.1,301.1 844.8,301.7 845.5,300.7 846.2,299.6 846.9,299.1 847.6,300 848.3,301.3 849,300.9 849.7,299.4 850.4,301.1 851.1,300.9 851.8,300.7 852.5,286.8 853.2,292.5 853.9,287.1 854.6,293.5 855.3,297.5 856,297.3 856,311.6 855.3,311.4 854.6,314.8 853.9,314.9 853.2,312.7 852.5,313.6 851.8,314.3 851.1,313.2 850.4,313.3 849.7,312.6 849,311.6 848.3,311.4 847.6,313.7 846.9,313.7 846.2,312.2 845.5,313.5 844.8,314.3 844.1,311 843.4,313.3 842.7,313.5 842,314.2 841.3,311.8 840.6,312.9 839.9,313.1 839.2,313.9 838.6,312.4 837.9,314 837.2,313 836.5,311.9 835.8,313.8 835.1,314 834.4,311.8 833.7,312.9 833,314.4 832.3,314.7 831.6,313.9 830.9,312.1 830.2,315 829.5,314.7 828.8,311.6 828.1,311.3 827.4,311.1 826.7,311.8 826,313.8 825.3,314.6 824.6,314.3 823.9,312.1 823.2,314.7 822.5,311.4 821.8,314.9 821.1,314 820.4,312.8 819.7,314.1 819,313.7 818.3,313.5 817.6,313.2 816.9,313 816.2,313.5 815.5,313.6 814.8,313.8 814.1,311.7 813.4,312.6 812.7,312.5 812,314.7 811.3,311.7 810.6,313.1 809.9,311 809.2,311.1 808.5,313.7 807.8,314.9 807.1,313.9 806.4,312.1 805.7,314.4 805,313.2 804.3,313.1 803.7,312.5 803,312.8 802.3,311 801.6,311.9 800.9,315 800.2,312 799.5,312.5 798.8,314.4 798.1,313.5 797.4,312.5 796.7,314.9 796,314.1 795.3,312.5 794.6,312 793.9,312 793.2,314.7 792.5,311.9 791.8,314.4 791.1,311.5 790.4,312.9 789.7,313.8 789,313.3 788.3,311.8 787.6,311.1 786.9,312.3 786.2,313.9 785.5,312 784.8,312.8 784.1,312.5 783.4,312.7 782.7,312.3 782,312.1 781.3,314.9 780.6,312.7 779.9,314.5 779.2,314.6 778.5,311.7 777.8,312.9 777.1,314.2 776.4,314.5 775.7,313.4 775,312.1 774.3,313.7 773.6,311.9 772.9,314 772.2,312.4 771.5,313.9 770.8,313.8 770.1,312.5 769.4,312 768.8,313.8 768.1,313.1 767.4,312.7 766.7,312.1 766,313 765.3,312.9 764.6,313.3 763.9,314.9 763.2,314.1 762.5,315 761.8,311.2 761.1,312.5 760.4,314.5 759.7,314.5 759,311 758.3,312.1 757.6,313.8 756.9,313.3 756.2,311.5 755.5,311.2 754.8,313.8 754.1,312.9 753.4,314.3 752.7,314.2 752,311.8" fill="#00ff00" />
<path d="M737 170C737.6 178.3 739.3 205.8 740.5 220C741.7 234.2 742.8 244.5 744 255C745.2 265.5 746.7 275.8 748 283C749.3 290.2 751.3 295.5 752 298" fill="none" stroke="#00ff00" stroke-width="2.2" stroke-linejoin="round" />
<polyline points="677.8,283.3 730.8,283.3 731.5,270" fill="none" stroke="#808080" stroke-width="4.2" stroke-linejoin="round" />
<path d="M731.5 283C731.6 260.8 731.8 188.9 732.3 150C732.8 111.1 733.9 57.8 734.6 49.5C735.3 41.2 735.7 78.2 736.6 100C737.5 121.8 738.6 157.2 739.9 180C741.1 202.8 742.7 222.4 744.1 236.5C745.5 250.6 746.9 256.8 748.3 264.8C749.7 272.8 750.7 278.5 752.6 284.6C754.5 290.7 756.8 297.8 759.6 301.6C762.4 305.4 764.4 306.2 769.5 307.2C774.6 308.2 775.6 307.4 790 307.5C804.4 307.6 845 307.5 856 307.5" fill="none" stroke="#808080" stroke-width="4.2" stroke-linejoin="round" />
<polyline points="677.8,313.6 730.8,313.6" fill="none" stroke="#0000dc" stroke-width="1.3" stroke-linejoin="round" />
<polyline points="732,250 732.5,120 734.3,52 736.7,100 743.6,200 748,250" fill="none" stroke="#0000dc" stroke-width="1.4" stroke-linejoin="round" stroke-dasharray="1.5 6"/>
<polyline points="677.8,315.7 732,315.7 732,198.4" fill="none" stroke="#ee0000" stroke-width="2.8" stroke-linejoin="round" />
<path d="M732 198.4C732.4 202.9 733 216.5 734.2 225.2C735.4 233.9 737.5 242.7 739 250.7C740.5 258.7 741.6 266.2 743.3 273.3C745 280.4 746.9 287.6 749 293C751.1 298.4 753.2 302.7 756 305.8C758.8 308.9 759.4 310.2 765.9 311.4C772.4 312.6 780 312.7 795 312.9C810 313.1 845.8 312.7 856 312.6" fill="none" stroke="#ee0000" stroke-width="2.8" stroke-linejoin="round" />
<rect x="677.8" y="26.2" width="178.8" height="308.4" fill="none" stroke="#000" stroke-width="1.4"/>
<path d="M703.4 334.6v-3M703.4 26.2v3M729.1 334.6v-3M729.1 26.2v3M754.8 334.6v-3M754.8 26.2v3M780.4 334.6v-3M780.4 26.2v3M806 334.6v-3M806 26.2v3M831.7 334.6v-3M831.7 26.2v3M677.8 287.4h3M856.6 287.4h-3M677.8 258.3h3M856.6 258.3h-3M677.8 229.2h3M856.6 229.2h-3M677.8 200.1h3M856.6 200.1h-3M677.8 171h3M856.6 171h-3M677.8 141.9h3M856.6 141.9h-3M677.8 112.8h3M856.6 112.8h-3M677.8 83.7h3M856.6 83.7h-3M677.8 54.6h3M856.6 54.6h-3" stroke="#000" stroke-width="1.2" fill="none"/>
<text x="677.8" y="343.4" font-size="7.5" text-anchor="middle" class="ss" font-weight="bold" fill="#222">0.35</text>
<text x="703.4" y="343.4" font-size="7.5" text-anchor="middle" class="ss" font-weight="bold" fill="#222">0.36</text>
<text x="729.1" y="343.4" font-size="7.5" text-anchor="middle" class="ss" font-weight="bold" fill="#222">0.37</text>
<text x="754.8" y="343.4" font-size="7.5" text-anchor="middle" class="ss" font-weight="bold" fill="#222">0.38</text>
<text x="780.4" y="343.4" font-size="7.5" text-anchor="middle" class="ss" font-weight="bold" fill="#222">0.39</text>
<text x="806" y="343.4" font-size="7.5" text-anchor="middle" class="ss" font-weight="bold" fill="#222">0.4</text>
<text x="831.7" y="343.4" font-size="7.5" text-anchor="middle" class="ss" font-weight="bold" fill="#222">0.41</text>
<text x="677.3" y="319.3" font-size="7.5" text-anchor="end" class="ss" fill="#222">0</text>
<text x="677.3" y="290.2" font-size="7.5" text-anchor="end" class="ss" fill="#222">0.5</text>
<text x="677.3" y="261.1" font-size="7.5" text-anchor="end" class="ss" fill="#222">1</text>
<text x="677.3" y="232" font-size="7.5" text-anchor="end" class="ss" fill="#222">1.5</text>
<text x="677.3" y="202.9" font-size="7.5" text-anchor="end" class="ss" fill="#222">2</text>
<text x="677.3" y="173.8" font-size="7.5" text-anchor="end" class="ss" fill="#222">2.5</text>
<text x="677.3" y="144.7" font-size="7.5" text-anchor="end" class="ss" fill="#222">3</text>
<text x="677.3" y="115.6" font-size="7.5" text-anchor="end" class="ss" fill="#222">3.5</text>
<text x="677.3" y="86.5" font-size="7.5" text-anchor="end" class="ss" fill="#222">4</text>
<text x="677.3" y="57.4" font-size="7.5" text-anchor="end" class="ss" fill="#222">4.5</text>
<text x="677.3" y="28.3" font-size="7.5" text-anchor="end" class="ss" fill="#222">5</text>
<rect x="894.5" y="24.2" width="200" height="299" fill="#fff"/>
<polygon points="895.5,306.6 896.2,305.8 897,302.7 897.7,306.7 898.4,306.6 899.1,306.6 899.9,307 900.6,306.7 901.3,305.7 902,305.9 902.8,306.8 903.5,306.3 904.2,307 904.9,306.5 905.7,306.4 906.4,306.2 907.1,306.4 907.8,305.8 908.6,306 909.3,306.2 910,306.6 910.7,305.6 911.5,306.7 912.2,304.1 912.9,305.6 913.6,306.2 914.4,302.3 915.1,306.4 915.8,304 916.5,306.8 917.3,305.8 918,306.3 918.7,305.6 919.4,303.4 920.2,303.8 920.9,305.9 921.6,306.7 922.3,304.8 923.1,304.8 923.8,305.8 924.5,306.8 925.2,302.4 926,306.6 926.7,305.6 927.4,306.1 928.1,305.9 928.9,306.8 929.6,306.3 930.3,306.8 931,306.4 931.8,306.3 932.5,306.4 933.2,306.2 933.9,306.1 934.7,306.6 935.4,306.8 936.1,306.1 936.8,306.1 937.6,306.8 938.3,305.7 938.3,312 937.6,312 936.8,312 936.1,312 935.4,312 934.7,312 933.9,312 933.2,312 932.5,312 931.8,312 931,312 930.3,312 929.6,312 928.9,312 928.1,312 927.4,312 926.7,312 926,312 925.2,312 924.5,312 923.8,312 923.1,312 922.3,312 921.6,312 920.9,312 920.2,312 919.4,312 918.7,312 918,312 917.3,312 916.5,312 915.8,312 915.1,312 914.4,312 913.6,312 912.9,312 912.2,312 911.5,312 910.7,312 910,312 909.3,312 908.6,312 907.8,312 907.1,312 906.4,312 905.7,312 904.9,312 904.2,312 903.5,312 902.8,312 902,312 901.3,312 900.6,312 899.9,312 899.1,312 898.4,312 897.7,312 897,312 896.2,312 895.5,312" fill="#00ff00" />
<polygon points="995,297.8 995.7,296.3 996.4,295.3 997.1,297.2 997.8,296.1 998.6,296.4 999.3,297.3 1000,295.5 1000.7,297.7 1001.4,296.9 1002.1,295.8 1002.8,297.1 1003.5,298.6 1004.3,297.8 1005,297.6 1005.7,298.9 1006.4,300.1 1007.1,300.3 1007.8,301.1 1008.5,299.9 1009.2,301.4 1010,300.5 1010.7,300.9 1011.4,299.9 1012.1,300.6 1012.8,302 1013.5,301.1 1014.2,301 1014.9,301.2 1015.7,300.4 1016.4,299.8 1017.1,300.3 1017.8,300.6 1018.5,300.4 1019.2,301 1019.9,301.2 1020.6,301.8 1021.4,300.4 1022.1,299.1 1022.8,299.6 1023.5,297.7 1024.2,298.9 1024.9,297.6 1025.6,297.2 1026.3,295.8 1027.1,297.3 1027.8,295.7 1028.5,296.9 1029.2,296.2 1029.9,297.4 1030.6,297.6 1031.3,299 1032,299.6 1032.7,298.2 1033.5,299.4 1034.2,300.4 1034.9,299.8 1035.6,301.6 1036.3,300 1037,300.9 1037.7,300.3 1038.4,300.7 1039.2,300.1 1039.9,301.3 1040.6,300.9 1041.3,299.7 1042,301.7 1042.7,300.2 1043.4,300.3 1044.1,300.2 1044.9,299.9 1045.6,300.9 1046.3,299.8 1047,301.8 1047.7,301.9 1048.4,300.1 1049.1,298.8 1049.8,298.5 1050.6,297.4 1051.3,297.2 1052,297.6 1052.7,297.5 1053.4,296.7 1054.1,296.8 1054.8,297.8 1055.5,297 1056.3,296.4 1057,296.4 1057.7,297.8 1058.4,299.3 1059.1,298.9 1059.8,298.8 1060.5,300.2 1061.2,300.7 1061.9,300.4 1062.7,300.4 1063.4,300.2 1064.1,301.9 1064.8,301.6 1065.5,300.1 1066.2,301.6 1066.9,299.9 1067.6,299.6 1068.4,301.6 1069.1,301.7 1069.8,299.6 1070.5,299.9 1071.2,301.1 1071.9,301.9 1072.6,302 1073.3,300.1 1074.1,301.1 1074.8,301.9 1075.5,300.5 1076.2,298.9 1076.9,300 1077.6,299.7 1078.3,297 1079,297.5 1079.8,296 1080.5,296.4 1081.2,296.4 1081.9,296.5 1082.6,297.1 1083.3,298.2 1084,297.7 1084.7,297 1085.5,297.3 1086.2,299.6 1086.9,299.9 1087.6,298.8 1088.3,300.6 1089,300.4 1089.7,301.5 1090.4,301.1 1091.2,299.9 1091.9,301 1092.6,300.9 1093.3,299.8 1094,300.4 1094,315.7 1093.3,315.5 1092.6,315.3 1091.9,315.2 1091.2,315.1 1090.4,315.5 1089.7,315.7 1089,315.6 1088.3,320.7 1087.6,315.2 1086.9,315 1086.2,315.3 1085.5,315.7 1084.7,316 1084,316.9 1083.3,315.3 1082.6,316 1081.9,315.9 1081.2,316.2 1080.5,315.2 1079.8,315.3 1079,316.5 1078.3,315.7 1077.6,315.4 1076.9,316.4 1076.2,316.3 1075.5,315.7 1074.8,316.3 1074.1,315.8 1073.3,315.1 1072.6,316 1071.9,316.3 1071.2,316.2 1070.5,315.4 1069.8,315.7 1069.1,316.3 1068.4,316.2 1067.6,315.9 1066.9,316.1 1066.2,316.1 1065.5,316.4 1064.8,316.1 1064.1,316 1063.4,316.4 1062.7,315.2 1061.9,316.3 1061.2,316.2 1060.5,316.2 1059.8,315.1 1059.1,315.2 1058.4,316.3 1057.7,316 1057,315.9 1056.3,316.2 1055.5,315 1054.8,315.7 1054.1,315.2 1053.4,316.4 1052.7,316.4 1052,315.1 1051.3,315.7 1050.6,320.1 1049.8,315.3 1049.1,315.2 1048.4,315.1 1047.7,315.5 1047,315.2 1046.3,315.8 1045.6,315.2 1044.9,315.1 1044.1,315.1 1043.4,315.5 1042.7,315.3 1042,316 1041.3,315.3 1040.6,315.8 1039.9,315.8 1039.2,315.4 1038.4,316.5 1037.7,318 1037,315.4 1036.3,315.5 1035.6,320.9 1034.9,315.5 1034.2,315.6 1033.5,316.3 1032.7,315.9 1032,315 1031.3,315.3 1030.6,316 1029.9,315.9 1029.2,320.7 1028.5,315.9 1027.8,315.3 1027.1,316.2 1026.3,316.5 1025.6,315.8 1024.9,316.3 1024.2,320.4 1023.5,315.8 1022.8,316.5 1022.1,315.7 1021.4,315.5 1020.6,315.1 1019.9,315.1 1019.2,315.8 1018.5,315.6 1017.8,315.4 1017.1,316 1016.4,315.6 1015.7,315.6 1014.9,315.3 1014.2,316 1013.5,316.4 1012.8,316.1 1012.1,316.2 1011.4,315.2 1010.7,316.4 1010,315.4 1009.2,315.8 1008.5,315.5 1007.8,315.5 1007.1,318.1 1006.4,316 1005.7,317.7 1005,315.4 1004.3,316.3 1003.5,315.6 1002.8,315.5 1002.1,316.5 1001.4,315.5 1000.7,316.5 1000,315.9 999.3,316 998.6,315.1 997.8,316.2 997.1,315.6 996.4,316.1 995.7,316.2 995,315.5" fill="#00ff00" />
<polyline points="938.5,312 940.5,80 942.5,45 944.6,35 946.5,50 949.1,70.2" fill="none" stroke="#00ff00" stroke-width="2.2" stroke-linejoin="round" />
<path d="M949.1 70.2C949.9 78.5 952.2 101.4 954 120C955.8 138.6 957.8 165.2 959.7 181.8C961.6 198.4 963.2 209.1 965.3 219.6C967.3 230.1 969.4 236.1 972 245C974.6 253.9 978 265.3 980.9 273.3C983.8 281.3 986.6 288.3 989.4 293C992.2 297.7 996.4 300.1 997.8 301.5" fill="none" stroke="#00ff00" stroke-width="2.2" stroke-linejoin="round" />
<polyline points="894.5,313 938.5,313" fill="none" stroke="#808080" stroke-width="3" stroke-linejoin="round" />
<path d="M938.3 313C938.3 291.7 938.1 217.2 938.3 185C938.5 152.8 939 136.7 939.5 120C940 103.3 940.8 92.7 941.5 85C942.2 77.3 943 74 943.7 74C944.5 74 944 67 946 85C948 103 953 158.9 956 181.8C959 204.7 961.2 209 963.9 222.4C966.6 235.8 969.8 250.7 972.4 262C975 273.3 976.9 281.2 979.5 290.2C982.1 299.1 985.4 312.4 988 315.7C990.6 319 991.3 311.1 995 310C998.7 308.9 993.5 309.2 1010 309C1026.5 308.8 1080 309 1094 309" fill="none" stroke="#808080" stroke-width="2.8" stroke-linejoin="round" stroke-dasharray="5 2"/>
<polyline points="894.5,316 938.3,316 938.3,185" fill="none" stroke="#0000dc" stroke-width="2.4" stroke-linejoin="round" />
<path d="M938.3 185C938.4 177.5 938.5 155.8 938.8 140C939.1 124.2 939.8 102.7 940.3 90C940.8 77.3 941.4 69.7 942 64C942.6 58.3 943.1 56.3 943.7 56C944.3 55.7 944.6 57.1 945.5 62C946.4 66.9 946.9 65.3 949 85.3C951.1 105.3 955.2 159 958.2 181.8C961.2 204.7 963.9 209.5 966.7 222.4C969.5 235.3 972.8 249.8 975.2 259.2C977.6 268.6 979 273.4 980.9 279C982.8 284.6 984.1 288.8 986.5 293C988.9 297.2 992.2 301.6 995 304.4C997.8 307.2 1001 308.9 1003.5 310C1006 311.1 994.9 310.8 1010 311C1025.1 311.2 1080 311 1094 311" fill="none" stroke="#0000dc" stroke-width="2.4" stroke-linejoin="round" />
<polyline points="894.5,317.1 938.5,317.1 938.5,197" fill="none" stroke="#ee0000" stroke-width="2.8" stroke-linejoin="round" />
<path d="M938.5 197C939 200.8 939.9 213.5 941.3 219.6C942.7 225.7 945.1 228 947 233.7C948.9 239.3 950.7 247.4 952.6 253.5C954.5 259.6 955.9 264.9 958.3 270.5C960.6 276.1 963.9 282.7 966.7 287.4C969.5 292.1 971.9 295.4 975.2 298.7C978.5 302 982.7 305.2 986.5 307.2C990.3 309.2 992.2 309.9 997.8 310.6C1003.4 311.3 1004 311.2 1020 311.3C1036 311.4 1081.7 311.5 1094 311.5" fill="none" stroke="#ee0000" stroke-width="2.8" stroke-linejoin="round" />
<polyline points="1059,312.2 1094,312.2" fill="none" stroke="#ee0000" stroke-width="4.4" stroke-linejoin="round" />
<rect x="894.5" y="24.2" width="200" height="299" fill="none" stroke="#000" stroke-width="1.4"/>
<path d="M916.7 323.2v-3M916.7 24.2v3M938.9 323.2v-3M938.9 24.2v3M961.2 323.2v-3M961.2 24.2v3M983.4 323.2v-3M983.4 24.2v3M1005.6 323.2v-3M1005.6 24.2v3M1027.8 323.2v-3M1027.8 24.2v3M1050 323.2v-3M1050 24.2v3M1072.3 323.2v-3M1072.3 24.2v3M894.5 223.6h3M1094.5 223.6h-3M894.5 128.8h3M1094.5 128.8h-3M894.5 34.1h3M1094.5 34.1h-3" stroke="#000" stroke-width="1.2" fill="none"/>
<text x="894.5" y="333.4" font-size="7.5" text-anchor="middle" class="ss" font-weight="bold" fill="#222">0.585</text>
<text x="916.7" y="333.4" font-size="7.5" text-anchor="middle" class="ss" font-weight="bold" fill="#222">0.59</text>
<text x="938.9" y="333.4" font-size="7.5" text-anchor="middle" class="ss" font-weight="bold" fill="#222">0.595</text>
<text x="961.2" y="333.4" font-size="7.5" text-anchor="middle" class="ss" font-weight="bold" fill="#222">0.6</text>
<text x="983.4" y="333.4" font-size="7.5" text-anchor="middle" class="ss" font-weight="bold" fill="#222">0.605</text>
<text x="1005.6" y="333.4" font-size="7.5" text-anchor="middle" class="ss" font-weight="bold" fill="#222">0.61</text>
<text x="1027.8" y="333.4" font-size="7.5" text-anchor="middle" class="ss" font-weight="bold" fill="#222">0.615</text>
<text x="1050" y="333.4" font-size="7.5" text-anchor="middle" class="ss" font-weight="bold" fill="#222">0.62</text>
<text x="1072.3" y="333.4" font-size="7.5" text-anchor="middle" class="ss" font-weight="bold" fill="#222">0.625</text>
<text x="1094.5" y="333.4" font-size="7.5" text-anchor="middle" class="ss" font-weight="bold" fill="#222">0.63</text>
<text x="892.5" y="321.1" font-size="7.5" text-anchor="end" class="ss" fill="#222">0</text>
<text x="892.5" y="226.4" font-size="7.5" text-anchor="end" class="ss" fill="#222">5</text>
<text x="892.5" y="131.6" font-size="7.5" text-anchor="end" class="ss" fill="#222">10</text>
<text x="892.5" y="36.9" font-size="7.5" text-anchor="end" class="ss" fill="#222">15</text>
</svg></body></html>
